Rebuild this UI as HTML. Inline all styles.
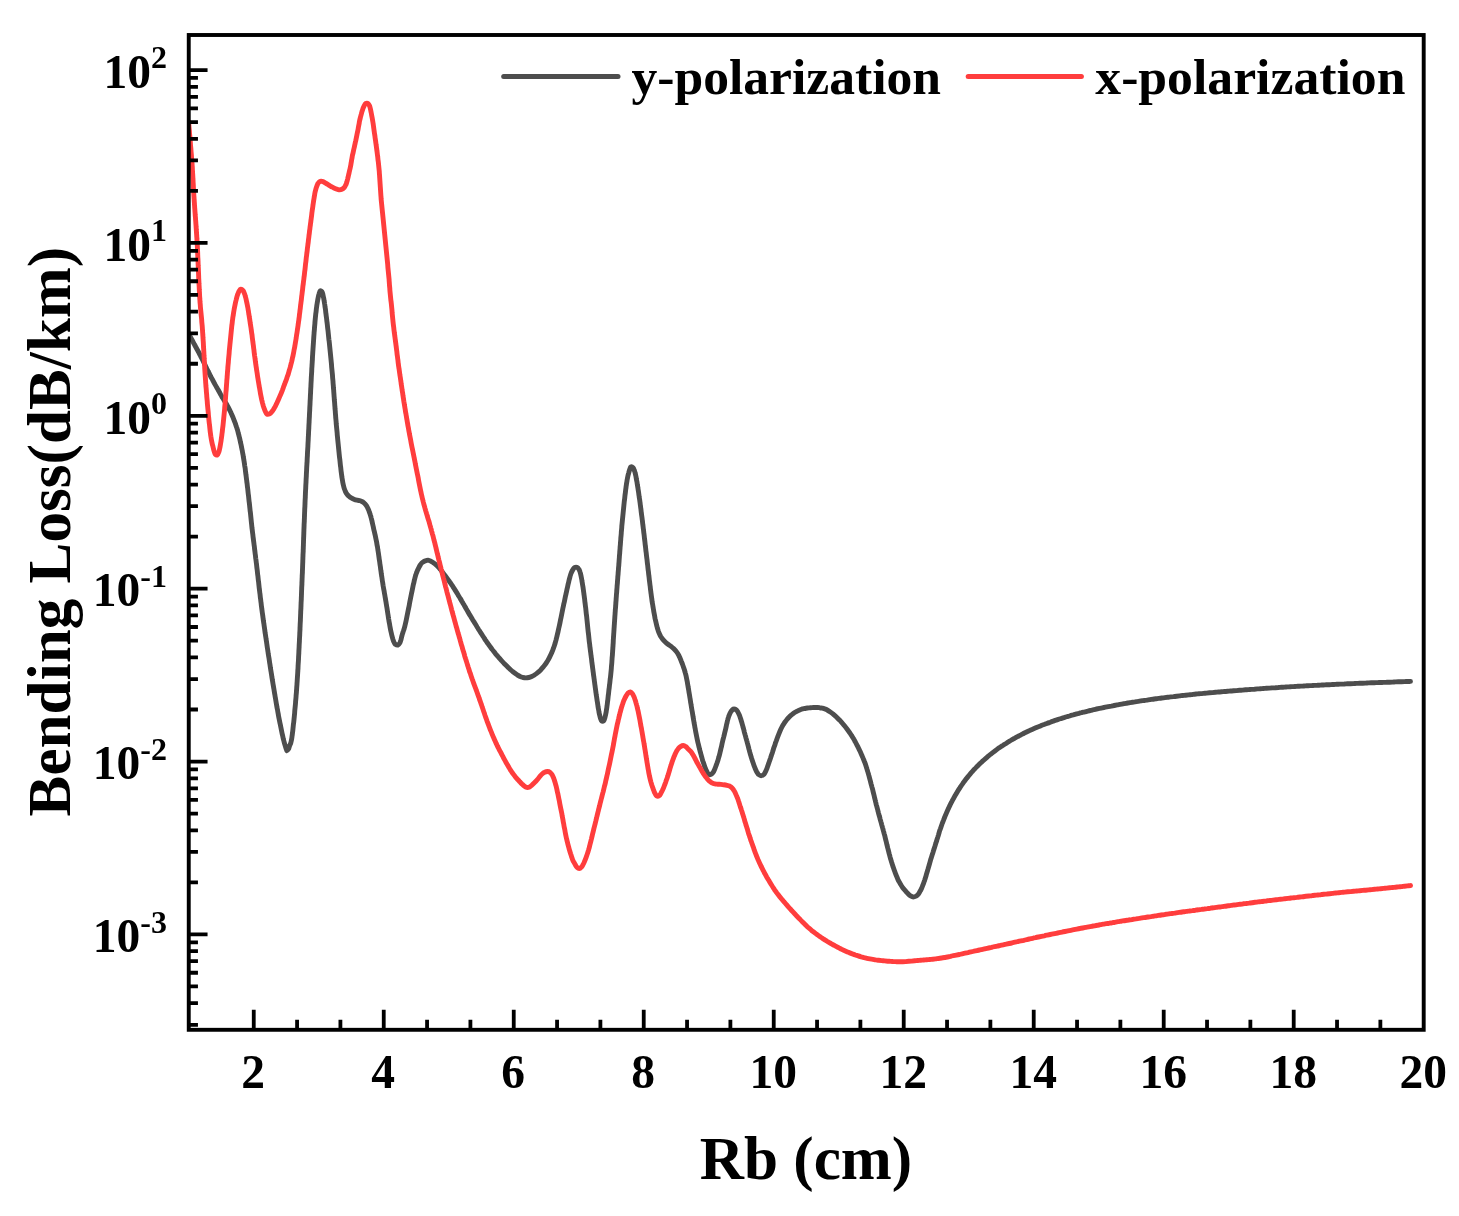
<!DOCTYPE html>
<html><head><meta charset="utf-8"><title>Bending Loss</title>
<style>html,body{margin:0;padding:0;background:#fff}svg{display:block}text{font-family:"Liberation Serif",serif;font-weight:bold;fill:#000}</style></head><body>
<svg width="1459" height="1216" viewBox="0 0 1459 1216">
<rect width="1459" height="1216" fill="#fff"/>
<clipPath id="plot"><rect x="188.75" y="35.00" width="1234.95" height="994.80"/></clipPath><g clip-path="url(#plot)">
<path d="M188.8 334.0C189.0 334.4 189.7 335.8 190.2 336.6C190.7 337.5 191.1 338.4 191.6 339.3C192.1 340.2 192.6 341.0 193.1 341.9C193.5 342.8 194.0 343.7 194.5 344.6C195.0 345.4 195.5 346.3 195.9 347.2C196.4 348.1 196.9 349.0 197.3 349.8C197.8 350.7 198.3 351.6 198.8 352.5C199.2 353.4 199.7 354.3 200.2 355.2C200.6 356.0 201.1 356.9 201.5 357.8C202.0 358.7 202.4 359.6 202.9 360.5C203.3 361.4 203.8 362.3 204.2 363.2C204.6 364.1 205.1 365.0 205.5 365.9C205.9 366.8 206.4 367.7 206.8 368.6C207.3 369.5 207.7 370.4 208.1 371.3C208.6 372.2 209.0 373.1 209.5 374.0C209.9 374.9 210.4 375.8 210.8 376.7C211.3 377.6 211.8 378.5 212.3 379.3C212.7 380.2 213.2 381.1 213.7 382.0C214.2 382.9 214.7 383.7 215.1 384.6C215.6 385.5 216.1 386.4 216.6 387.2C217.1 388.1 217.6 389.0 218.1 389.9C218.6 390.7 219.1 391.6 219.6 392.5C220.1 393.4 220.5 394.2 221.0 395.1C221.5 396.0 222.0 396.8 222.5 397.7C223.1 398.6 223.6 399.4 224.1 400.3C224.6 401.1 225.1 402.0 225.7 402.8C226.2 403.7 226.7 404.6 227.2 405.4C227.7 406.3 228.2 407.2 228.6 408.0C229.1 408.9 229.6 409.8 230.0 410.7C230.4 411.6 230.9 412.5 231.3 413.5C231.7 414.4 232.1 415.3 232.5 416.2C232.9 417.1 233.3 418.1 233.6 419.0C234.0 419.9 234.3 420.9 234.7 421.8C235.0 422.7 235.4 423.7 235.7 424.6C236.0 425.6 236.4 426.5 236.7 427.5C237.0 428.4 237.3 429.4 237.6 430.3C237.8 431.3 238.1 432.3 238.3 433.2C238.6 434.2 238.8 435.2 239.1 436.2C239.3 437.1 239.6 438.1 239.8 439.1C240.0 440.1 240.2 441.0 240.4 442.0C240.7 443.0 240.9 444.0 241.1 444.9C241.3 445.9 241.5 446.9 241.7 447.9C241.9 448.9 242.1 449.9 242.3 450.8C242.4 451.8 242.6 452.8 242.8 453.8C243.0 454.8 243.2 455.8 243.3 456.7C243.5 457.7 243.7 458.7 243.8 459.7C244.0 460.7 244.1 461.7 244.3 462.7C244.5 463.7 244.6 464.7 244.7 465.7C244.9 466.6 245.0 467.6 245.2 468.6C245.3 469.6 245.4 470.6 245.5 471.6C245.7 472.6 245.8 473.6 245.9 474.6C246.1 475.6 246.2 476.6 246.3 477.6C246.4 478.6 246.6 479.6 246.7 480.6C246.8 481.5 246.9 482.5 247.1 483.5C247.2 484.5 247.3 485.5 247.4 486.5C247.5 487.5 247.7 488.5 247.8 489.5C247.9 490.5 248.0 491.5 248.1 492.5C248.2 493.5 248.3 494.5 248.5 495.5C248.6 496.5 248.7 497.5 248.8 498.5C248.9 499.5 249.0 500.4 249.1 501.4C249.3 502.4 249.4 503.4 249.5 504.4C249.6 505.4 249.7 506.4 249.8 507.4C249.9 508.4 250.0 509.4 250.1 510.4C250.2 511.4 250.4 512.4 250.5 513.4C250.6 514.4 250.7 515.4 250.8 516.4C250.9 517.4 251.0 518.4 251.1 519.4C251.2 520.4 251.3 521.4 251.4 522.4C251.5 523.4 251.6 524.4 251.7 525.3C251.8 526.3 251.9 527.3 252.0 528.3C252.2 529.3 252.3 530.3 252.4 531.3C252.5 532.3 252.6 533.3 252.8 534.3C252.9 535.3 253.0 536.3 253.1 537.3C253.3 538.3 253.4 539.3 253.5 540.3C253.6 541.3 253.8 542.3 253.9 543.2C254.0 544.2 254.1 545.2 254.3 546.2C254.4 547.2 254.5 548.2 254.6 549.2C254.8 550.2 254.9 551.2 255.0 552.2C255.1 553.2 255.2 554.2 255.4 555.2C255.5 556.2 255.6 557.2 255.7 558.2C255.9 559.1 256.0 560.1 256.1 561.1C256.2 562.1 256.3 563.1 256.5 564.1C256.6 565.1 256.7 566.1 256.8 567.1C256.9 568.1 257.1 569.1 257.2 570.1C257.3 571.1 257.4 572.1 257.5 573.1C257.6 574.1 257.7 575.1 257.9 576.1C258.0 577.1 258.1 578.0 258.2 579.0C258.3 580.0 258.4 581.0 258.6 582.0C258.7 583.0 258.8 584.0 258.9 585.0C259.0 586.0 259.1 587.0 259.2 588.0C259.4 589.0 259.5 590.0 259.6 591.0C259.7 592.0 259.8 593.0 260.0 594.0C260.1 595.0 260.2 596.0 260.3 597.0C260.4 597.9 260.6 598.9 260.7 599.9C260.8 600.9 260.9 601.9 261.1 602.9C261.2 603.9 261.3 604.9 261.4 605.9C261.6 606.9 261.7 607.9 261.8 608.9C262.0 609.9 262.1 610.9 262.2 611.9C262.3 612.8 262.5 613.8 262.6 614.8C262.8 615.8 262.9 616.8 263.0 617.8C263.2 618.8 263.3 619.8 263.4 620.8C263.6 621.8 263.7 622.8 263.9 623.8C264.0 624.8 264.1 625.7 264.3 626.7C264.4 627.7 264.6 628.7 264.7 629.7C264.9 630.7 265.0 631.7 265.1 632.7C265.3 633.7 265.4 634.7 265.6 635.7C265.7 636.7 265.9 637.6 266.0 638.6C266.2 639.6 266.3 640.6 266.5 641.6C266.6 642.6 266.8 643.6 266.9 644.6C267.0 645.6 267.2 646.6 267.3 647.5C267.5 648.5 267.6 649.5 267.8 650.5C267.9 651.5 268.1 652.5 268.2 653.5C268.4 654.5 268.5 655.5 268.7 656.5C268.9 657.5 269.0 658.4 269.2 659.4C269.3 660.4 269.5 661.4 269.6 662.4C269.8 663.4 269.9 664.4 270.1 665.4C270.2 666.4 270.4 667.4 270.5 668.3C270.7 669.3 270.8 670.3 271.0 671.3C271.2 672.3 271.3 673.3 271.5 674.3C271.6 675.3 271.8 676.3 271.9 677.2C272.1 678.2 272.3 679.2 272.4 680.2C272.6 681.2 272.7 682.2 272.9 683.2C273.1 684.2 273.2 685.2 273.4 686.1C273.6 687.1 273.7 688.1 273.9 689.1C274.1 690.1 274.2 691.1 274.4 692.1C274.5 693.1 274.7 694.0 274.9 695.0C275.0 696.0 275.2 697.0 275.4 698.0C275.6 699.0 275.7 700.0 275.9 701.0C276.1 701.9 276.2 702.9 276.4 703.9C276.6 704.9 276.8 705.9 276.9 706.9C277.1 707.9 277.3 708.9 277.5 709.8C277.6 710.8 277.8 711.8 278.0 712.8C278.2 713.8 278.4 714.8 278.5 715.8C278.7 716.7 278.9 717.7 279.1 718.7C279.3 719.7 279.5 720.7 279.7 721.7C279.9 722.6 280.1 723.6 280.3 724.6C280.5 725.6 280.7 726.6 280.9 727.5C281.1 728.5 281.3 729.5 281.5 730.5C281.7 731.5 281.9 732.4 282.1 733.4C282.3 734.4 282.6 735.4 282.8 736.4C283.0 737.3 283.2 738.3 283.4 739.3C283.7 740.3 283.9 741.2 284.2 742.2C284.4 743.2 284.7 744.1 285.0 745.1C285.3 746.0 285.6 747.0 285.9 748.0C286.2 748.9 286.5 750.6 286.9 750.8C287.4 750.9 288.1 749.7 288.6 748.9C289.0 748.1 289.1 747.0 289.5 746.0C289.8 745.1 290.3 744.2 290.7 743.3C291.0 742.3 291.2 741.3 291.4 740.3C291.6 739.4 291.7 738.4 291.9 737.4C292.0 736.4 292.2 735.4 292.3 734.4C292.4 733.4 292.5 732.4 292.7 731.4C292.8 730.4 292.9 729.4 293.0 728.4C293.1 727.4 293.2 726.4 293.3 725.4C293.4 724.5 293.5 723.5 293.7 722.5C293.8 721.5 293.9 720.5 294.0 719.5C294.1 718.5 294.2 717.5 294.3 716.5C294.4 715.5 294.5 714.5 294.6 713.5C294.7 712.5 294.7 711.5 294.8 710.5C294.9 709.5 295.0 708.5 295.1 707.5C295.2 706.5 295.3 705.5 295.4 704.5C295.5 703.5 295.6 702.5 295.6 701.5C295.7 700.5 295.8 699.5 295.9 698.5C296.0 697.5 296.1 696.5 296.1 695.5C296.2 694.5 296.3 693.5 296.4 692.5C296.4 691.5 296.5 690.5 296.6 689.5C296.7 688.5 296.7 687.5 296.8 686.5C296.9 685.5 297.0 684.5 297.0 683.5C297.1 682.5 297.2 681.5 297.2 680.5C297.3 679.5 297.3 678.5 297.4 677.5C297.5 676.5 297.5 675.5 297.6 674.5C297.7 673.5 297.7 672.5 297.8 671.5C297.8 670.5 297.9 669.5 298.0 668.5C298.0 667.5 298.1 666.5 298.1 665.5C298.2 664.5 298.2 663.5 298.3 662.5C298.4 661.5 298.4 660.5 298.5 659.5C298.5 658.5 298.6 657.5 298.6 656.5C298.7 655.5 298.7 654.5 298.8 653.5C298.8 652.5 298.9 651.5 298.9 650.5C299.0 649.5 299.0 648.5 299.1 647.5C299.1 646.5 299.2 645.5 299.2 644.5C299.3 643.5 299.3 642.5 299.4 641.5C299.4 640.5 299.5 639.5 299.5 638.5C299.6 637.5 299.6 636.5 299.7 635.5C299.7 634.5 299.8 633.5 299.8 632.5C299.9 631.5 299.9 630.5 300.0 629.5C300.0 628.5 300.0 627.5 300.1 626.5C300.1 625.5 300.2 624.5 300.2 623.5C300.3 622.5 300.3 621.5 300.4 620.5C300.4 619.5 300.4 618.5 300.5 617.5C300.5 616.5 300.6 615.5 300.6 614.5C300.7 613.5 300.7 612.5 300.7 611.5C300.8 610.5 300.8 609.5 300.9 608.5C300.9 607.5 301.0 606.5 301.0 605.5C301.0 604.5 301.1 603.5 301.1 602.5C301.2 601.5 301.2 600.5 301.3 599.5C301.3 598.5 301.3 597.5 301.4 596.5C301.4 595.5 301.5 594.5 301.5 593.5C301.5 592.5 301.6 591.5 301.6 590.5C301.7 589.5 301.7 588.5 301.7 587.5C301.8 586.5 301.8 585.5 301.9 584.5C301.9 583.5 301.9 582.5 302.0 581.5C302.0 580.5 302.1 579.5 302.1 578.5C302.2 577.5 302.2 576.5 302.2 575.5C302.3 574.5 302.3 573.5 302.4 572.5C302.4 571.5 302.4 570.5 302.5 569.5C302.5 568.5 302.6 567.5 302.6 566.5C302.6 565.5 302.7 564.5 302.7 563.5C302.8 562.5 302.8 561.5 302.8 560.5C302.9 559.5 302.9 558.5 302.9 557.5C303.0 556.5 303.0 555.5 303.0 554.5C303.1 553.5 303.1 552.5 303.2 551.5C303.2 550.5 303.2 549.5 303.3 548.5C303.3 547.5 303.3 546.5 303.4 545.5C303.4 544.5 303.4 543.5 303.5 542.5C303.5 541.5 303.5 540.5 303.6 539.5C303.6 538.4 303.6 537.4 303.7 536.4C303.7 535.4 303.8 534.4 303.8 533.4C303.8 532.4 303.9 531.4 303.9 530.4C303.9 529.4 304.0 528.4 304.0 527.4C304.1 526.4 304.1 525.4 304.1 524.4C304.2 523.4 304.2 522.4 304.3 521.4C304.3 520.4 304.3 519.4 304.4 518.4C304.4 517.4 304.5 516.4 304.5 515.4C304.5 514.4 304.6 513.4 304.6 512.4C304.7 511.4 304.7 510.4 304.7 509.4C304.8 508.4 304.8 507.4 304.9 506.4C304.9 505.4 305.0 504.4 305.0 503.4C305.0 502.4 305.1 501.4 305.1 500.4C305.2 499.4 305.2 498.4 305.3 497.4C305.3 496.4 305.3 495.4 305.4 494.4C305.4 493.4 305.5 492.4 305.5 491.4C305.6 490.4 305.6 489.4 305.7 488.4C305.7 487.4 305.8 486.4 305.8 485.4C305.9 484.4 305.9 483.4 306.0 482.4C306.0 481.4 306.1 480.4 306.1 479.4C306.2 478.4 306.2 477.4 306.3 476.4C306.3 475.4 306.4 474.4 306.4 473.4C306.5 472.4 306.5 471.4 306.6 470.4C306.6 469.4 306.7 468.4 306.7 467.4C306.8 466.4 306.8 465.4 306.9 464.4C306.9 463.4 307.0 462.4 307.1 461.4C307.1 460.4 307.2 459.4 307.2 458.4C307.3 457.4 307.3 456.4 307.4 455.4C307.4 454.4 307.5 453.4 307.5 452.4C307.6 451.4 307.6 450.4 307.7 449.4C307.8 448.4 307.8 447.4 307.9 446.4C307.9 445.4 308.0 444.4 308.0 443.4C308.1 442.4 308.1 441.4 308.2 440.4C308.2 439.4 308.3 438.4 308.3 437.4C308.4 436.4 308.4 435.4 308.5 434.4C308.5 433.4 308.6 432.4 308.6 431.4C308.7 430.4 308.7 429.4 308.8 428.4C308.8 427.4 308.9 426.4 308.9 425.4C309.0 424.4 309.0 423.4 309.1 422.4C309.1 421.4 309.2 420.4 309.2 419.4C309.3 418.4 309.3 417.4 309.4 416.4C309.4 415.4 309.5 414.4 309.5 413.4C309.6 412.4 309.6 411.4 309.7 410.4C309.7 409.4 309.8 408.4 309.8 407.4C309.9 406.4 309.9 405.4 310.0 404.4C310.0 403.4 310.1 402.4 310.1 401.4C310.2 400.4 310.2 399.4 310.3 398.4C310.3 397.4 310.4 396.4 310.4 395.4C310.5 394.4 310.5 393.4 310.6 392.4C310.6 391.4 310.7 390.4 310.7 389.4C310.8 388.4 310.8 387.4 310.9 386.4C310.9 385.4 311.0 384.4 311.0 383.4C311.1 382.4 311.1 381.4 311.2 380.4C311.2 379.4 311.3 378.4 311.3 377.4C311.4 376.4 311.4 375.4 311.5 374.4C311.6 373.4 311.6 372.4 311.7 371.4C311.7 370.4 311.8 369.4 311.8 368.4C311.9 367.4 312.0 366.4 312.0 365.4C312.1 364.4 312.1 363.4 312.2 362.4C312.2 361.4 312.3 360.4 312.4 359.4C312.4 358.4 312.5 357.4 312.5 356.4C312.6 355.4 312.7 354.4 312.7 353.4C312.8 352.4 312.8 351.4 312.9 350.4C313.0 349.4 313.0 348.4 313.1 347.4C313.2 346.4 313.2 345.4 313.3 344.4C313.4 343.4 313.4 342.4 313.5 341.4C313.6 340.4 313.6 339.4 313.7 338.4C313.8 337.4 313.8 336.4 313.9 335.4C314.0 334.4 314.1 333.4 314.1 332.4C314.2 331.4 314.3 330.4 314.4 329.4C314.4 328.4 314.5 327.4 314.6 326.4C314.7 325.4 314.8 324.4 314.9 323.4C314.9 322.4 315.0 321.4 315.1 320.4C315.2 319.4 315.3 318.4 315.4 317.4C315.5 316.4 315.6 315.4 315.7 314.4C315.8 313.4 316.0 312.4 316.1 311.4C316.2 310.4 316.3 309.4 316.4 308.5C316.6 307.5 316.7 306.5 316.8 305.5C317.0 304.5 317.1 303.5 317.3 302.5C317.5 301.5 317.6 300.5 317.8 299.5C318.0 298.6 318.2 297.6 318.4 296.6C318.6 295.6 318.8 294.6 319.1 293.7C319.4 292.7 319.7 291.2 320.2 290.9C320.7 290.6 321.7 291.3 322.1 292.0C322.6 292.7 322.7 293.9 323.0 294.9C323.2 295.9 323.4 296.9 323.6 297.8C323.8 298.8 324.0 299.8 324.1 300.8C324.3 301.8 324.5 302.8 324.6 303.8C324.8 304.7 324.9 305.7 325.0 306.7C325.2 307.7 325.3 308.7 325.5 309.7C325.6 310.7 325.7 311.7 325.8 312.7C326.0 313.7 326.1 314.7 326.2 315.7C326.3 316.7 326.5 317.7 326.6 318.7C326.7 319.6 326.8 320.6 326.9 321.6C327.1 322.6 327.2 323.6 327.3 324.6C327.4 325.6 327.5 326.6 327.6 327.6C327.7 328.6 327.9 329.6 328.0 330.6C328.1 331.6 328.2 332.6 328.3 333.6C328.4 334.6 328.5 335.6 328.6 336.6C328.7 337.6 328.8 338.6 328.9 339.6C329.1 340.5 329.2 341.5 329.3 342.5C329.4 343.5 329.5 344.5 329.6 345.5C329.7 346.5 329.8 347.5 329.9 348.5C330.0 349.5 330.1 350.5 330.2 351.5C330.3 352.5 330.4 353.5 330.5 354.5C330.6 355.5 330.7 356.5 330.8 357.5C330.9 358.5 331.0 359.5 331.1 360.5C331.2 361.5 331.3 362.5 331.4 363.5C331.5 364.5 331.6 365.5 331.6 366.5C331.7 367.5 331.8 368.5 331.9 369.5C332.0 370.5 332.1 371.5 332.2 372.4C332.3 373.4 332.4 374.4 332.5 375.4C332.5 376.4 332.6 377.4 332.7 378.4C332.8 379.4 332.9 380.4 333.0 381.4C333.0 382.4 333.1 383.4 333.2 384.4C333.3 385.4 333.4 386.4 333.4 387.4C333.5 388.4 333.6 389.4 333.7 390.4C333.7 391.4 333.8 392.4 333.9 393.4C334.0 394.4 334.0 395.4 334.1 396.4C334.2 397.4 334.3 398.4 334.3 399.4C334.4 400.4 334.5 401.4 334.6 402.4C334.7 403.4 334.7 404.4 334.8 405.4C334.9 406.4 335.0 407.4 335.0 408.4C335.1 409.4 335.2 410.4 335.3 411.4C335.3 412.4 335.4 413.4 335.5 414.4C335.6 415.4 335.7 416.4 335.7 417.4C335.8 418.4 335.9 419.4 336.0 420.4C336.1 421.4 336.2 422.4 336.2 423.4C336.3 424.4 336.4 425.4 336.5 426.4C336.6 427.4 336.7 428.4 336.8 429.4C336.9 430.4 337.0 431.4 337.1 432.4C337.2 433.3 337.2 434.3 337.3 435.3C337.4 436.3 337.5 437.3 337.6 438.3C337.7 439.3 337.8 440.3 337.9 441.3C338.0 442.3 338.1 443.3 338.2 444.3C338.3 445.3 338.4 446.3 338.5 447.3C338.6 448.3 338.7 449.3 338.8 450.3C338.9 451.3 339.0 452.3 339.1 453.3C339.2 454.3 339.3 455.3 339.4 456.3C339.5 457.3 339.6 458.3 339.8 459.3C339.9 460.3 340.0 461.3 340.1 462.2C340.2 463.2 340.3 464.2 340.4 465.2C340.5 466.2 340.7 467.2 340.8 468.2C340.9 469.2 341.0 470.2 341.1 471.2C341.3 472.2 341.4 473.2 341.5 474.2C341.7 475.2 341.8 476.2 341.9 477.2C342.1 478.2 342.2 479.1 342.4 480.1C342.6 481.1 342.7 482.1 342.9 483.1C343.1 484.1 343.4 485.0 343.6 486.0C343.8 487.0 344.1 488.0 344.4 488.9C344.7 489.9 345.1 490.8 345.5 491.7C346.0 492.6 346.5 493.5 347.1 494.3C347.7 495.0 348.4 495.8 349.2 496.4C349.9 497.1 350.8 497.6 351.7 498.1C352.5 498.6 353.4 499.0 354.4 499.4C355.3 499.8 356.3 500.0 357.2 500.2C358.2 500.5 359.3 500.4 360.2 500.7C361.1 501.0 362.0 501.5 362.9 502.0C363.7 502.6 364.5 503.3 365.1 504.0C365.8 504.7 366.4 505.6 366.9 506.4C367.4 507.3 367.8 508.2 368.2 509.1C368.6 510.0 369.0 511.0 369.3 511.9C369.7 512.8 370.0 513.8 370.3 514.8C370.6 515.7 370.9 516.7 371.1 517.6C371.4 518.6 371.6 519.6 371.9 520.6C372.1 521.5 372.3 522.5 372.5 523.5C372.7 524.5 372.9 525.5 373.2 526.4C373.4 527.4 373.6 528.4 373.8 529.4C374.0 530.3 374.3 531.3 374.5 532.3C374.7 533.3 374.9 534.2 375.2 535.2C375.4 536.2 375.6 537.2 375.8 538.2C376.0 539.1 376.2 540.1 376.4 541.1C376.6 542.1 376.8 543.1 376.9 544.1C377.1 545.0 377.3 546.0 377.5 547.0C377.6 548.0 377.8 549.0 377.9 550.0C378.1 551.0 378.2 552.0 378.4 553.0C378.5 553.9 378.7 554.9 378.8 555.9C379.0 556.9 379.1 557.9 379.2 558.9C379.4 559.9 379.5 560.9 379.7 561.9C379.8 562.9 379.9 563.9 380.1 564.9C380.2 565.8 380.4 566.8 380.5 567.8C380.6 568.8 380.8 569.8 380.9 570.8C381.1 571.8 381.2 572.8 381.3 573.8C381.5 574.8 381.6 575.8 381.8 576.8C381.9 577.7 382.1 578.7 382.2 579.7C382.3 580.7 382.5 581.7 382.7 582.7C382.8 583.7 383.0 584.7 383.1 585.7C383.3 586.7 383.5 587.6 383.6 588.6C383.8 589.6 384.0 590.6 384.2 591.6C384.3 592.6 384.5 593.6 384.7 594.5C384.9 595.5 385.0 596.5 385.2 597.5C385.4 598.5 385.6 599.5 385.7 600.5C385.9 601.4 386.1 602.4 386.2 603.4C386.4 604.4 386.5 605.4 386.7 606.4C386.9 607.4 387.0 608.4 387.2 609.4C387.3 610.4 387.5 611.3 387.6 612.3C387.8 613.3 387.9 614.3 388.1 615.3C388.2 616.3 388.4 617.3 388.5 618.3C388.7 619.3 388.9 620.2 389.0 621.2C389.2 622.2 389.4 623.2 389.6 624.2C389.7 625.2 389.9 626.2 390.1 627.2C390.3 628.1 390.5 629.1 390.6 630.1C390.8 631.1 391.0 632.1 391.3 633.0C391.5 634.0 391.7 635.0 392.0 636.0C392.2 636.9 392.5 637.9 392.8 638.9C393.1 639.8 393.4 640.8 393.8 641.7C394.2 642.6 394.6 643.7 395.3 644.3C396.0 644.8 397.2 645.3 398.0 645.1C398.7 644.8 399.4 643.6 399.9 642.8C400.3 641.9 400.6 640.9 400.9 640.0C401.2 639.0 401.4 638.0 401.6 637.0C401.9 636.1 402.1 635.1 402.4 634.1C402.7 633.2 403.0 632.2 403.3 631.3C403.6 630.3 404.0 629.4 404.2 628.4C404.5 627.5 404.8 626.5 405.0 625.5C405.3 624.6 405.5 623.6 405.7 622.6C405.9 621.6 406.1 620.6 406.3 619.7C406.5 618.7 406.7 617.7 406.9 616.7C407.1 615.7 407.3 614.7 407.5 613.8C407.7 612.8 407.9 611.8 408.1 610.8C408.3 609.8 408.5 608.8 408.7 607.9C408.9 606.9 409.1 605.9 409.3 604.9C409.4 603.9 409.6 603.0 409.8 602.0C410.0 601.0 410.2 600.0 410.4 599.0C410.6 598.0 410.8 597.1 411.0 596.1C411.2 595.1 411.4 594.1 411.6 593.1C411.8 592.1 412.0 591.2 412.2 590.2C412.4 589.2 412.6 588.2 412.8 587.2C413.0 586.3 413.2 585.3 413.4 584.3C413.7 583.3 413.9 582.4 414.1 581.4C414.3 580.4 414.6 579.4 414.8 578.5C415.1 577.5 415.3 576.5 415.6 575.6C415.9 574.6 416.2 573.7 416.6 572.7C416.9 571.8 417.3 570.9 417.7 569.9C418.1 569.0 418.6 568.1 419.0 567.2C419.5 566.3 420.0 565.4 420.5 564.6C421.1 563.8 421.7 563.0 422.5 562.4C423.3 561.8 424.2 561.2 425.1 560.9C426.0 560.5 427.0 560.1 428.0 560.1C428.9 560.2 429.9 560.7 430.8 561.2C431.7 561.6 432.5 562.2 433.3 562.7C434.2 563.3 435.0 563.9 435.7 564.6C436.5 565.2 437.2 565.9 437.9 566.6C438.6 567.4 439.2 568.1 439.9 568.9C440.5 569.6 441.2 570.4 441.8 571.2C442.4 572.0 443.0 572.8 443.6 573.6C444.2 574.4 444.8 575.2 445.4 576.0C446.0 576.8 446.6 577.6 447.2 578.4C447.8 579.2 448.4 580.0 449.0 580.9C449.5 581.7 450.1 582.5 450.7 583.3C451.2 584.1 451.8 585.0 452.4 585.8C452.9 586.6 453.5 587.5 454.0 588.3C454.5 589.2 455.1 590.0 455.6 590.9C456.1 591.7 456.7 592.6 457.2 593.4C457.7 594.3 458.2 595.1 458.7 596.0C459.3 596.9 459.8 597.7 460.3 598.6C460.8 599.4 461.3 600.3 461.8 601.2C462.3 602.0 462.8 602.9 463.3 603.8C463.8 604.6 464.3 605.5 464.8 606.4C465.3 607.2 465.8 608.1 466.3 609.0C466.8 609.8 467.3 610.7 467.8 611.6C468.3 612.4 468.8 613.3 469.3 614.2C469.9 615.0 470.4 615.9 470.9 616.7C471.4 617.6 471.9 618.5 472.4 619.3C473.0 620.2 473.5 621.0 474.0 621.9C474.5 622.7 475.0 623.6 475.6 624.4C476.1 625.3 476.6 626.2 477.1 627.0C477.7 627.9 478.2 628.7 478.7 629.6C479.3 630.4 479.8 631.2 480.3 632.1C480.9 632.9 481.4 633.8 482.0 634.6C482.5 635.5 483.0 636.3 483.6 637.1C484.1 638.0 484.7 638.8 485.2 639.7C485.8 640.5 486.4 641.3 486.9 642.1C487.5 643.0 488.1 643.8 488.7 644.6C489.2 645.4 489.8 646.2 490.4 647.0C491.0 647.8 491.6 648.7 492.2 649.5C492.8 650.2 493.4 651.0 494.1 651.8C494.7 652.6 495.3 653.4 495.9 654.2C496.6 654.9 497.2 655.7 497.9 656.5C498.5 657.2 499.2 658.0 499.8 658.7C500.5 659.5 501.2 660.2 501.9 661.0C502.5 661.7 503.2 662.4 503.9 663.2C504.6 663.9 505.3 664.6 506.0 665.3C506.7 666.0 507.4 666.7 508.1 667.4C508.9 668.1 509.6 668.8 510.3 669.5C511.1 670.2 511.8 670.8 512.6 671.5C513.4 672.1 514.2 672.7 515.0 673.3C515.8 673.9 516.6 674.5 517.4 675.0C518.3 675.5 519.2 676.0 520.1 676.5C521.0 676.9 521.9 677.2 522.9 677.5C523.9 677.7 524.9 677.9 525.9 677.9C526.9 677.9 527.9 677.7 528.8 677.5C529.8 677.3 530.8 676.9 531.7 676.5C532.6 676.1 533.5 675.7 534.3 675.1C535.2 674.6 536.0 674.0 536.8 673.4C537.6 672.8 538.3 672.1 539.1 671.5C539.8 670.8 540.5 670.1 541.2 669.3C541.9 668.6 542.5 667.8 543.2 667.1C543.8 666.3 544.4 665.5 545.0 664.7C545.6 663.9 546.2 663.1 546.7 662.2C547.3 661.4 547.8 660.5 548.3 659.6C548.8 658.8 549.2 657.9 549.7 657.0C550.1 656.1 550.6 655.2 551.0 654.3C551.4 653.4 551.8 652.5 552.2 651.5C552.6 650.6 552.9 649.7 553.3 648.7C553.6 647.8 553.9 646.8 554.3 645.9C554.6 644.9 554.9 644.0 555.2 643.0C555.4 642.1 555.7 641.1 556.0 640.1C556.2 639.2 556.5 638.2 556.7 637.2C557.0 636.3 557.2 635.3 557.4 634.3C557.7 633.3 557.9 632.3 558.1 631.4C558.3 630.4 558.5 629.4 558.7 628.4C559.0 627.5 559.2 626.5 559.4 625.5C559.6 624.5 559.8 623.5 560.0 622.6C560.2 621.6 560.4 620.6 560.6 619.6C560.8 618.6 561.0 617.7 561.2 616.7C561.4 615.7 561.6 614.7 561.8 613.7C562.0 612.7 562.2 611.8 562.4 610.8C562.6 609.8 562.8 608.8 563.0 607.8C563.2 606.9 563.4 605.9 563.6 604.9C563.8 603.9 564.1 602.9 564.3 602.0C564.5 601.0 564.7 600.0 564.9 599.0C565.1 598.0 565.3 597.1 565.5 596.1C565.7 595.1 566.0 594.1 566.2 593.1C566.4 592.2 566.6 591.2 566.8 590.2C567.0 589.2 567.2 588.3 567.5 587.3C567.7 586.3 567.9 585.3 568.1 584.3C568.3 583.4 568.6 582.4 568.8 581.4C569.0 580.4 569.3 579.5 569.5 578.5C569.8 577.5 570.0 576.6 570.3 575.6C570.6 574.6 570.9 573.7 571.3 572.8C571.7 571.8 572.1 570.9 572.6 570.1C573.2 569.2 573.7 568.1 574.4 567.7C575.2 567.2 576.4 567.0 577.1 567.4C577.9 567.7 578.6 568.7 579.1 569.6C579.6 570.4 579.9 571.4 580.2 572.4C580.5 573.3 580.7 574.3 580.9 575.3C581.1 576.3 581.3 577.3 581.5 578.2C581.7 579.2 581.9 580.2 582.0 581.2C582.2 582.2 582.3 583.2 582.5 584.2C582.7 585.2 582.8 586.2 583.0 587.1C583.1 588.1 583.3 589.1 583.4 590.1C583.5 591.1 583.7 592.1 583.8 593.1C583.9 594.1 584.1 595.1 584.2 596.1C584.3 597.1 584.5 598.1 584.6 599.1C584.7 600.0 584.8 601.0 584.9 602.0C585.1 603.0 585.2 604.0 585.3 605.0C585.4 606.0 585.5 607.0 585.7 608.0C585.8 609.0 585.9 610.0 586.0 611.0C586.1 612.0 586.2 613.0 586.3 614.0C586.5 615.0 586.6 616.0 586.7 617.0C586.8 618.0 586.9 618.9 587.0 619.9C587.1 620.9 587.2 621.9 587.3 622.9C587.4 623.9 587.5 624.9 587.6 625.9C587.7 626.9 587.8 627.9 587.9 628.9C588.0 629.9 588.1 630.9 588.2 631.9C588.4 632.9 588.5 633.9 588.6 634.9C588.7 635.9 588.8 636.9 588.9 637.9C589.0 638.9 589.1 639.9 589.2 640.9C589.3 641.9 589.5 642.9 589.6 643.8C589.7 644.8 589.8 645.8 589.9 646.8C590.1 647.8 590.2 648.8 590.3 649.8C590.4 650.8 590.6 651.8 590.7 652.8C590.8 653.8 590.9 654.8 591.1 655.8C591.2 656.8 591.3 657.8 591.5 658.8C591.6 659.7 591.7 660.7 591.8 661.7C592.0 662.7 592.1 663.7 592.2 664.7C592.4 665.7 592.5 666.7 592.6 667.7C592.7 668.7 592.9 669.7 593.0 670.7C593.1 671.7 593.3 672.7 593.4 673.7C593.5 674.6 593.6 675.6 593.8 676.6C593.9 677.6 594.0 678.6 594.2 679.6C594.3 680.6 594.4 681.6 594.6 682.6C594.7 683.6 594.8 684.6 595.0 685.6C595.1 686.6 595.2 687.6 595.4 688.5C595.5 689.5 595.7 690.5 595.8 691.5C595.9 692.5 596.1 693.5 596.2 694.5C596.4 695.5 596.5 696.5 596.7 697.5C596.8 698.5 597.0 699.5 597.1 700.4C597.3 701.4 597.4 702.4 597.6 703.4C597.7 704.4 597.9 705.4 598.0 706.4C598.2 707.4 598.3 708.4 598.5 709.3C598.7 710.3 598.9 711.3 599.0 712.3C599.2 713.3 599.4 714.3 599.7 715.2C599.9 716.2 600.1 717.2 600.4 718.1C600.8 719.1 601.0 720.5 601.6 720.9C602.2 721.3 603.3 721.0 603.9 720.5C604.4 720.0 604.6 718.7 604.9 717.7C605.2 716.8 605.4 715.8 605.6 714.8C605.8 713.8 606.0 712.8 606.2 711.8C606.3 710.8 606.5 709.8 606.6 708.9C606.8 707.9 606.9 706.9 607.0 705.9C607.2 704.9 607.3 703.9 607.4 702.9C607.5 701.9 607.6 700.9 607.8 699.9C607.9 698.9 608.0 697.9 608.1 696.9C608.2 695.9 608.3 694.9 608.5 693.9C608.6 692.9 608.7 692.0 608.8 691.0C608.9 690.0 609.0 689.0 609.2 688.0C609.3 687.0 609.4 686.0 609.5 685.0C609.7 684.0 609.8 683.0 609.9 682.0C610.0 681.0 610.1 680.0 610.2 679.0C610.4 678.0 610.5 677.0 610.6 676.0C610.7 675.0 610.8 674.0 610.9 673.0C611.0 672.1 611.1 671.1 611.2 670.1C611.3 669.1 611.4 668.1 611.4 667.1C611.5 666.1 611.6 665.1 611.7 664.1C611.8 663.1 611.9 662.1 611.9 661.1C612.0 660.1 612.1 659.1 612.1 658.1C612.2 657.1 612.3 656.1 612.4 655.1C612.4 654.1 612.5 653.1 612.6 652.1C612.6 651.1 612.7 650.1 612.8 649.1C612.8 648.1 612.9 647.1 613.0 646.1C613.0 645.1 613.1 644.1 613.2 643.1C613.2 642.1 613.3 641.1 613.3 640.1C613.4 639.1 613.5 638.1 613.5 637.1C613.6 636.1 613.7 635.1 613.7 634.1C613.8 633.1 613.9 632.1 613.9 631.1C614.0 630.1 614.0 629.1 614.1 628.1C614.2 627.1 614.2 626.1 614.3 625.1C614.4 624.1 614.4 623.1 614.5 622.1C614.6 621.1 614.6 620.1 614.7 619.1C614.8 618.1 614.8 617.1 614.9 616.1C615.0 615.1 615.1 614.1 615.1 613.1C615.2 612.1 615.3 611.1 615.3 610.1C615.4 609.1 615.5 608.1 615.6 607.1C615.6 606.1 615.7 605.1 615.8 604.1C615.8 603.1 615.9 602.1 616.0 601.1C616.1 600.1 616.1 599.1 616.2 598.1C616.3 597.1 616.4 596.1 616.4 595.1C616.5 594.1 616.6 593.1 616.7 592.1C616.7 591.1 616.8 590.1 616.9 589.1C617.0 588.1 617.1 587.1 617.1 586.1C617.2 585.1 617.3 584.1 617.4 583.1C617.4 582.1 617.5 581.1 617.6 580.1C617.7 579.1 617.8 578.1 617.8 577.1C617.9 576.1 618.0 575.1 618.1 574.1C618.1 573.1 618.2 572.1 618.3 571.1C618.4 570.1 618.5 569.1 618.5 568.2C618.6 567.2 618.7 566.2 618.8 565.2C618.8 564.2 618.9 563.2 619.0 562.2C619.1 561.2 619.1 560.2 619.2 559.2C619.3 558.2 619.4 557.2 619.4 556.2C619.5 555.2 619.6 554.2 619.7 553.2C619.7 552.2 619.8 551.2 619.9 550.2C620.0 549.2 620.1 548.2 620.1 547.2C620.2 546.2 620.3 545.2 620.4 544.2C620.4 543.2 620.5 542.2 620.6 541.2C620.7 540.2 620.8 539.2 620.8 538.2C620.9 537.2 621.0 536.2 621.1 535.2C621.2 534.2 621.3 533.2 621.3 532.2C621.4 531.2 621.5 530.2 621.6 529.2C621.7 528.2 621.8 527.2 621.8 526.2C621.9 525.2 622.0 524.2 622.1 523.2C622.2 522.2 622.3 521.2 622.4 520.2C622.5 519.2 622.6 518.2 622.7 517.2C622.8 516.2 622.9 515.2 623.0 514.2C623.1 513.2 623.2 512.3 623.3 511.3C623.4 510.3 623.5 509.3 623.6 508.3C623.7 507.3 623.8 506.3 623.9 505.3C624.0 504.3 624.1 503.3 624.2 502.3C624.3 501.3 624.4 500.3 624.6 499.3C624.7 498.3 624.8 497.3 624.9 496.3C625.0 495.3 625.1 494.3 625.3 493.3C625.4 492.3 625.5 491.3 625.6 490.4C625.7 489.4 625.9 488.4 626.0 487.4C626.1 486.4 626.3 485.4 626.4 484.4C626.6 483.4 626.7 482.4 626.9 481.4C627.0 480.4 627.2 479.4 627.4 478.5C627.6 477.5 627.8 476.5 628.0 475.5C628.2 474.5 628.5 473.6 628.8 472.6C629.0 471.7 629.3 470.7 629.6 469.7C630.0 468.8 630.2 467.3 630.8 467.0C631.4 466.6 632.5 467.1 633.1 467.7C633.7 468.3 634.0 469.5 634.3 470.4C634.7 471.4 635.0 472.3 635.2 473.3C635.5 474.3 635.7 475.3 635.9 476.2C636.1 477.2 636.3 478.2 636.4 479.2C636.6 480.2 636.8 481.2 637.0 482.1C637.1 483.1 637.3 484.1 637.4 485.1C637.6 486.1 637.8 487.1 637.9 488.1C638.1 489.1 638.2 490.1 638.4 491.1C638.5 492.0 638.7 493.0 638.8 494.0C638.9 495.0 639.1 496.0 639.2 497.0C639.4 498.0 639.5 499.0 639.7 500.0C639.8 501.0 639.9 502.0 640.1 502.9C640.2 503.9 640.3 504.9 640.5 505.9C640.6 506.9 640.7 507.9 640.9 508.9C641.0 509.9 641.1 510.9 641.2 511.9C641.4 512.9 641.5 513.9 641.6 514.9C641.8 515.9 641.9 516.9 642.0 517.8C642.1 518.8 642.2 519.8 642.4 520.8C642.5 521.8 642.6 522.8 642.7 523.8C642.9 524.8 643.0 525.8 643.1 526.8C643.2 527.8 643.3 528.8 643.5 529.8C643.6 530.8 643.7 531.8 643.8 532.8C644.0 533.8 644.1 534.8 644.2 535.7C644.3 536.7 644.4 537.7 644.5 538.7C644.7 539.7 644.8 540.7 644.9 541.7C645.0 542.7 645.1 543.7 645.2 544.7C645.4 545.7 645.5 546.7 645.6 547.7C645.7 548.7 645.8 549.7 645.9 550.7C646.0 551.7 646.2 552.7 646.3 553.7C646.4 554.7 646.5 555.6 646.6 556.6C646.7 557.6 646.9 558.6 647.0 559.6C647.1 560.6 647.2 561.6 647.3 562.6C647.4 563.6 647.6 564.6 647.7 565.6C647.8 566.6 647.9 567.6 648.0 568.6C648.1 569.6 648.3 570.6 648.4 571.6C648.5 572.6 648.6 573.6 648.7 574.5C648.9 575.5 649.0 576.5 649.1 577.5C649.2 578.5 649.3 579.5 649.4 580.5C649.6 581.5 649.7 582.5 649.8 583.5C649.9 584.5 650.0 585.5 650.2 586.5C650.3 587.5 650.4 588.5 650.5 589.5C650.7 590.5 650.8 591.5 650.9 592.4C651.0 593.4 651.2 594.4 651.3 595.4C651.4 596.4 651.6 597.4 651.7 598.4C651.9 599.4 652.0 600.4 652.1 601.4C652.3 602.4 652.4 603.4 652.6 604.3C652.8 605.3 652.9 606.3 653.1 607.3C653.2 608.3 653.4 609.3 653.6 610.3C653.7 611.3 653.9 612.2 654.1 613.2C654.3 614.2 654.5 615.2 654.7 616.2C654.8 617.2 655.0 618.2 655.2 619.1C655.5 620.1 655.7 621.1 655.9 622.1C656.1 623.0 656.3 624.0 656.6 625.0C656.8 626.0 657.1 626.9 657.3 627.9C657.6 628.9 657.9 629.8 658.2 630.8C658.5 631.7 658.9 632.7 659.3 633.6C659.7 634.5 660.1 635.4 660.6 636.3C661.1 637.1 661.7 638.0 662.3 638.7C662.9 639.5 663.6 640.3 664.3 641.0C665.0 641.7 665.7 642.4 666.5 643.1C667.2 643.7 668.0 644.3 668.9 644.9C669.7 645.5 670.6 646.0 671.4 646.6C672.2 647.2 672.9 647.9 673.6 648.6C674.3 649.3 675.0 650.0 675.7 650.7C676.3 651.5 676.9 652.3 677.5 653.1C678.0 654.0 678.5 654.9 679.0 655.8C679.4 656.6 679.8 657.6 680.2 658.5C680.6 659.4 681.0 660.3 681.3 661.3C681.7 662.2 682.0 663.1 682.4 664.1C682.7 665.0 683.1 666.0 683.4 666.9C683.8 667.8 684.1 668.8 684.4 669.7C684.7 670.7 685.0 671.7 685.2 672.6C685.5 673.6 685.7 674.6 686.0 675.5C686.2 676.5 686.4 677.5 686.6 678.5C686.8 679.5 687.0 680.5 687.2 681.4C687.4 682.4 687.5 683.4 687.7 684.4C687.9 685.4 688.1 686.4 688.2 687.4C688.4 688.3 688.6 689.3 688.7 690.3C688.9 691.3 689.0 692.3 689.2 693.3C689.4 694.3 689.5 695.3 689.7 696.2C689.8 697.2 690.0 698.2 690.2 699.2C690.3 700.2 690.5 701.2 690.6 702.2C690.8 703.2 691.0 704.2 691.1 705.1C691.3 706.1 691.4 707.1 691.6 708.1C691.8 709.1 691.9 710.1 692.1 711.1C692.3 712.1 692.5 713.1 692.6 714.0C692.8 715.0 693.0 716.0 693.1 717.0C693.3 718.0 693.5 719.0 693.6 720.0C693.8 721.0 694.0 721.9 694.1 722.9C694.3 723.9 694.5 724.9 694.7 725.9C694.8 726.9 695.0 727.9 695.2 728.8C695.3 729.8 695.5 730.8 695.7 731.8C695.9 732.8 696.1 733.8 696.3 734.8C696.5 735.7 696.7 736.7 696.9 737.7C697.1 738.7 697.3 739.7 697.5 740.6C697.7 741.6 697.9 742.6 698.2 743.6C698.4 744.5 698.6 745.5 698.9 746.5C699.1 747.5 699.4 748.4 699.6 749.4C699.9 750.4 700.1 751.3 700.4 752.3C700.6 753.3 700.9 754.2 701.2 755.2C701.4 756.2 701.7 757.1 702.0 758.1C702.3 759.1 702.5 760.0 702.8 761.0C703.1 761.9 703.5 762.9 703.8 763.8C704.1 764.8 704.4 765.7 704.8 766.7C705.1 767.6 705.5 768.5 705.9 769.5C706.3 770.4 706.7 771.3 707.2 772.2C707.7 773.0 708.3 774.2 709.0 774.5C709.8 774.8 711.0 774.5 711.7 774.0C712.5 773.5 713.0 772.5 713.6 771.6C714.1 770.8 714.4 769.8 714.8 768.9C715.2 768.0 715.6 767.1 715.9 766.1C716.3 765.2 716.6 764.2 716.9 763.3C717.2 762.3 717.6 761.4 717.9 760.4C718.2 759.5 718.4 758.5 718.7 757.6C719.0 756.6 719.3 755.6 719.5 754.7C719.8 753.7 720.0 752.7 720.2 751.7C720.5 750.8 720.7 749.8 720.9 748.8C721.1 747.8 721.4 746.9 721.6 745.9C721.8 744.9 722.0 743.9 722.2 743.0C722.5 742.0 722.7 741.0 722.9 740.0C723.2 739.1 723.4 738.1 723.7 737.1C723.9 736.1 724.1 735.2 724.4 734.2C724.6 733.2 724.8 732.3 725.1 731.3C725.3 730.3 725.6 729.3 725.8 728.4C726.0 727.4 726.2 726.4 726.4 725.4C726.6 724.4 726.9 723.5 727.1 722.5C727.3 721.5 727.5 720.5 727.8 719.6C728.0 718.6 728.3 717.6 728.6 716.7C728.9 715.7 729.3 714.8 729.7 713.9C730.2 713.0 730.6 712.1 731.2 711.3C731.8 710.5 732.4 709.4 733.2 709.1C734.0 708.8 735.2 709.1 736.0 709.6C736.7 710.0 737.3 711.1 737.8 711.9C738.3 712.8 738.7 713.7 739.1 714.6C739.5 715.5 739.9 716.5 740.2 717.4C740.5 718.4 740.8 719.3 741.1 720.3C741.4 721.3 741.7 722.2 742.0 723.2C742.2 724.1 742.5 725.1 742.8 726.1C743.0 727.0 743.3 728.0 743.6 729.0C743.8 729.9 744.1 730.9 744.3 731.9C744.6 732.8 744.9 733.8 745.1 734.8C745.4 735.7 745.7 736.7 745.9 737.7C746.2 738.6 746.5 739.6 746.7 740.6C747.0 741.5 747.2 742.5 747.5 743.5C747.8 744.4 748.0 745.4 748.3 746.4C748.5 747.3 748.8 748.3 749.0 749.3C749.3 750.2 749.5 751.2 749.8 752.2C750.1 753.1 750.3 754.1 750.6 755.1C750.9 756.0 751.2 757.0 751.5 758.0C751.8 758.9 752.1 759.9 752.4 760.8C752.7 761.8 753.0 762.7 753.4 763.7C753.7 764.6 754.0 765.6 754.4 766.5C754.8 767.4 755.1 768.4 755.5 769.3C755.9 770.2 756.3 771.1 756.8 772.0C757.3 772.8 757.8 773.8 758.5 774.5C759.2 775.1 760.3 775.7 761.1 775.7C762.0 775.7 763.1 775.1 763.8 774.5C764.5 773.8 764.9 772.8 765.4 771.9C765.9 771.1 766.2 770.1 766.6 769.2C767.0 768.3 767.3 767.3 767.6 766.4C768.0 765.4 768.3 764.5 768.6 763.5C769.0 762.6 769.3 761.6 769.6 760.7C769.9 759.8 770.3 758.8 770.6 757.9C770.9 756.9 771.2 756.0 771.5 755.0C771.9 754.1 772.2 753.1 772.5 752.2C772.8 751.2 773.1 750.3 773.4 749.3C773.7 748.3 774.0 747.4 774.3 746.4C774.7 745.5 775.0 744.5 775.3 743.6C775.6 742.6 776.0 741.7 776.3 740.8C776.6 739.8 777.0 738.9 777.3 737.9C777.7 737.0 778.0 736.1 778.4 735.1C778.8 734.2 779.1 733.3 779.5 732.3C779.9 731.4 780.3 730.5 780.7 729.6C781.1 728.7 781.5 727.8 782.0 726.9C782.5 726.0 783.0 725.1 783.5 724.3C784.1 723.4 784.6 722.6 785.2 721.8C785.8 721.0 786.4 720.2 787.0 719.4C787.7 718.6 788.3 717.9 789.0 717.2C789.7 716.5 790.5 715.8 791.2 715.1C792.0 714.5 792.8 713.9 793.6 713.3C794.4 712.7 795.3 712.2 796.2 711.7C797.0 711.2 797.9 710.8 798.8 710.3C799.8 709.9 800.7 709.5 801.6 709.2C802.6 708.9 803.6 708.7 804.5 708.5C805.5 708.3 806.5 708.2 807.5 708.0C808.5 707.9 809.5 707.9 810.5 707.8C811.5 707.7 812.5 707.6 813.5 707.5C814.5 707.5 815.5 707.4 816.5 707.4C817.5 707.5 818.5 707.5 819.5 707.7C820.5 707.8 821.5 708.0 822.4 708.2C823.4 708.5 824.4 708.8 825.3 709.1C826.2 709.5 827.1 710.0 828.0 710.5C828.9 711.0 829.7 711.5 830.5 712.1C831.3 712.7 832.1 713.3 832.9 713.9C833.7 714.6 834.4 715.2 835.2 715.9C835.9 716.5 836.7 717.2 837.4 717.9C838.1 718.6 838.8 719.3 839.5 720.1C840.2 720.8 840.9 721.5 841.5 722.3C842.2 723.0 842.8 723.8 843.5 724.6C844.1 725.3 844.8 726.1 845.4 726.9C846.0 727.7 846.6 728.5 847.2 729.3C847.8 730.1 848.4 730.9 849.0 731.7C849.6 732.5 850.1 733.3 850.7 734.2C851.2 735.0 851.8 735.9 852.3 736.7C852.8 737.6 853.4 738.4 853.9 739.3C854.4 740.1 854.8 741.0 855.3 741.9C855.8 742.8 856.3 743.7 856.7 744.6C857.2 745.4 857.6 746.3 858.1 747.2C858.5 748.1 859.0 749.0 859.4 749.9C859.8 750.8 860.3 751.8 860.7 752.7C861.1 753.6 861.5 754.5 861.9 755.4C862.3 756.3 862.7 757.2 863.1 758.2C863.5 759.1 863.8 760.0 864.2 761.0C864.6 761.9 864.9 762.8 865.3 763.8C865.6 764.7 865.9 765.7 866.2 766.6C866.5 767.6 866.8 768.5 867.1 769.5C867.4 770.4 867.7 771.4 868.0 772.4C868.3 773.3 868.5 774.3 868.8 775.3C869.1 776.2 869.3 777.2 869.6 778.2C869.8 779.1 870.1 780.1 870.4 781.1C870.6 782.0 870.9 783.0 871.1 784.0C871.4 784.9 871.7 785.9 871.9 786.9C872.2 787.8 872.4 788.8 872.7 789.8C872.9 790.8 873.1 791.7 873.4 792.7C873.6 793.7 873.9 794.6 874.1 795.6C874.3 796.6 874.6 797.6 874.8 798.5C875.0 799.5 875.3 800.5 875.5 801.5C875.8 802.4 876.0 803.4 876.2 804.4C876.5 805.3 876.7 806.3 877.0 807.3C877.2 808.3 877.5 809.2 877.8 810.2C878.0 811.2 878.3 812.1 878.5 813.1C878.8 814.1 879.1 815.0 879.3 816.0C879.6 817.0 879.9 817.9 880.1 818.9C880.4 819.8 880.7 820.8 880.9 821.8C881.2 822.7 881.5 823.7 881.7 824.7C882.0 825.6 882.3 826.6 882.5 827.6C882.8 828.5 883.1 829.5 883.3 830.5C883.6 831.4 883.9 832.4 884.1 833.4C884.4 834.3 884.6 835.3 884.9 836.3C885.1 837.3 885.3 838.2 885.6 839.2C885.8 840.2 886.1 841.1 886.3 842.1C886.5 843.1 886.8 844.1 887.0 845.0C887.3 846.0 887.5 847.0 887.7 847.9C888.0 848.9 888.2 849.9 888.5 850.9C888.7 851.8 889.0 852.8 889.2 853.8C889.5 854.7 889.8 855.7 890.0 856.7C890.3 857.6 890.5 858.6 890.8 859.6C891.1 860.5 891.4 861.5 891.7 862.5C892.0 863.4 892.3 864.4 892.6 865.3C892.9 866.3 893.2 867.2 893.6 868.2C893.9 869.1 894.2 870.1 894.6 871.0C894.9 871.9 895.2 872.9 895.6 873.8C895.9 874.8 896.3 875.7 896.7 876.6C897.1 877.5 897.5 878.5 897.9 879.4C898.3 880.3 898.8 881.2 899.3 882.0C899.7 882.9 900.3 883.8 900.8 884.6C901.3 885.5 901.8 886.3 902.4 887.2C903.0 888.0 903.6 888.8 904.3 889.5C904.9 890.3 905.6 891.0 906.2 891.8C906.9 892.5 907.6 893.3 908.3 894.0C909.0 894.7 909.7 895.4 910.6 895.9C911.4 896.4 912.4 897.0 913.3 897.0C914.3 897.0 915.3 896.5 916.1 896.1C917.0 895.6 917.7 894.9 918.4 894.1C919.0 893.4 919.4 892.4 919.9 891.5C920.4 890.7 920.9 889.8 921.3 888.9C921.7 888.0 922.2 887.1 922.5 886.1C922.9 885.2 923.3 884.3 923.6 883.3C923.9 882.4 924.2 881.4 924.6 880.5C924.9 879.5 925.2 878.6 925.5 877.6C925.8 876.7 926.1 875.7 926.3 874.7C926.6 873.8 926.9 872.8 927.2 871.8C927.5 870.9 927.7 869.9 928.0 869.0C928.3 868.0 928.6 867.0 928.9 866.1C929.1 865.1 929.4 864.2 929.7 863.2C930.0 862.2 930.3 861.3 930.5 860.3C930.8 859.3 931.1 858.4 931.4 857.4C931.7 856.5 932.0 855.5 932.3 854.6C932.6 853.6 932.9 852.6 933.2 851.7C933.5 850.7 933.8 849.8 934.1 848.8C934.4 847.9 934.7 846.9 935.0 846.0C935.3 845.0 935.6 844.0 935.9 843.1C936.2 842.1 936.5 841.2 936.8 840.2C937.1 839.3 937.4 838.3 937.7 837.4C938.0 836.4 938.3 835.4 938.6 834.5C938.8 833.5 939.1 832.6 939.4 831.6C939.7 830.6 940.1 829.7 940.4 828.8C940.7 827.8 941.1 826.9 941.4 825.9C941.7 825.0 942.1 824.0 942.4 823.1C942.8 822.2 943.1 821.2 943.5 820.3C943.8 819.3 944.2 818.4 944.6 817.5C944.9 816.6 945.3 815.6 945.7 814.7C946.1 813.8 946.5 812.9 946.9 811.9C947.3 811.0 947.7 810.1 948.1 809.2C948.5 808.3 949.0 807.4 949.4 806.5C949.8 805.6 950.3 804.7 950.7 803.8C951.2 802.9 951.6 802.0 952.1 801.1C952.5 800.2 953.0 799.3 953.5 798.5C954.0 797.6 954.5 796.7 955.0 795.8C955.5 795.0 956.0 794.1 956.5 793.2C957.0 792.4 957.5 791.5 958.0 790.7C958.6 789.8 959.1 789.0 959.7 788.1C960.2 787.3 960.8 786.5 961.3 785.6C961.9 784.8 962.5 784.0 963.0 783.2C963.6 782.3 964.2 781.5 964.8 780.7C965.4 779.9 966.0 779.1 966.6 778.3C967.2 777.6 967.9 776.8 968.5 776.0C969.2 775.2 969.8 774.5 970.4 773.7C971.1 772.9 971.8 772.2 972.4 771.4C973.1 770.7 973.8 769.9 974.4 769.2C975.1 768.5 975.8 767.8 976.5 767.0C977.2 766.3 977.9 765.6 978.6 764.9C979.4 764.2 980.1 763.5 980.8 762.8C981.5 762.1 982.3 761.5 983.0 760.8C983.7 760.1 984.5 759.4 985.2 758.8C986.0 758.1 986.7 757.5 987.5 756.8C988.3 756.2 989.0 755.5 989.8 754.9C990.6 754.3 991.4 753.7 992.2 753.0C993.0 752.4 993.8 751.8 994.6 751.2C995.4 750.6 996.2 750.0 997.0 749.4C997.8 748.8 998.6 748.2 999.4 747.7C1000.3 747.1 1001.1 746.6 1001.9 746.0C1002.8 745.5 1003.6 744.9 1004.5 744.4C1005.3 743.8 1006.1 743.3 1007.0 742.8C1007.8 742.2 1008.7 741.7 1009.5 741.2C1010.4 740.7 1011.3 740.1 1012.1 739.6C1013.0 739.1 1013.9 738.6 1014.7 738.2C1015.6 737.7 1016.5 737.2 1017.4 736.7C1018.3 736.2 1019.1 735.8 1020.0 735.3C1020.9 734.8 1021.8 734.4 1022.7 733.9C1023.6 733.5 1024.5 733.0 1025.4 732.6C1026.3 732.1 1027.2 731.7 1028.1 731.3C1029.0 730.9 1029.9 730.4 1030.8 730.0C1031.7 729.6 1032.7 729.2 1033.6 728.8C1034.5 728.4 1035.4 728.0 1036.3 727.6C1037.3 727.2 1038.2 726.8 1039.1 726.5C1040.0 726.1 1041.0 725.7 1041.9 725.3C1042.8 725.0 1043.8 724.6 1044.7 724.3C1045.6 723.9 1046.6 723.6 1047.5 723.2C1048.5 722.9 1049.4 722.5 1050.3 722.2C1051.3 721.8 1052.2 721.5 1053.2 721.2C1054.1 720.8 1055.0 720.5 1056.0 720.2C1056.9 719.8 1057.9 719.5 1058.8 719.2C1059.8 718.9 1060.7 718.6 1061.7 718.3C1062.7 718.0 1063.6 717.7 1064.6 717.4C1065.5 717.1 1066.5 716.8 1067.5 716.5C1068.4 716.3 1069.4 716.0 1070.3 715.7C1071.3 715.4 1072.3 715.1 1073.2 714.9C1074.2 714.6 1075.2 714.3 1076.1 714.0C1077.1 713.8 1078.1 713.5 1079.0 713.3C1080.0 713.0 1081.0 712.8 1081.9 712.5C1082.9 712.3 1083.9 712.0 1084.9 711.8C1085.8 711.6 1086.8 711.3 1087.8 711.1C1088.8 710.9 1089.7 710.7 1090.7 710.4C1091.7 710.2 1092.6 709.9 1093.6 709.7C1094.6 709.5 1095.6 709.2 1096.5 709.0C1097.5 708.8 1098.5 708.6 1099.5 708.4C1100.5 708.2 1101.5 708.0 1102.4 707.8C1103.4 707.6 1104.4 707.4 1105.4 707.2C1106.4 707.0 1107.3 706.8 1108.3 706.6C1109.3 706.4 1110.3 706.2 1111.3 706.1C1112.3 705.9 1113.2 705.7 1114.2 705.5C1115.2 705.3 1116.2 705.1 1117.2 704.9C1118.2 704.7 1119.1 704.6 1120.1 704.4C1121.1 704.2 1122.1 704.0 1123.1 703.8C1124.1 703.7 1125.1 703.5 1126.1 703.3C1127.0 703.1 1128.0 703.0 1129.0 702.8C1130.0 702.7 1131.0 702.5 1132.0 702.3C1133.0 702.2 1134.0 702.0 1134.9 701.9C1135.9 701.7 1136.9 701.5 1137.9 701.4C1138.9 701.2 1139.9 701.1 1140.9 700.9C1141.9 700.8 1142.9 700.6 1143.9 700.5C1144.8 700.3 1145.8 700.2 1146.8 700.1C1147.8 699.9 1148.8 699.8 1149.8 699.6C1150.8 699.5 1151.8 699.3 1152.8 699.2C1153.8 699.1 1154.8 698.9 1155.8 698.8C1156.8 698.7 1157.7 698.5 1158.7 698.4C1159.7 698.3 1160.7 698.2 1161.7 698.0C1162.7 697.9 1163.7 697.8 1164.7 697.6C1165.7 697.5 1166.7 697.4 1167.7 697.3C1168.7 697.2 1169.7 697.0 1170.7 696.9C1171.7 696.8 1172.7 696.7 1173.6 696.6C1174.6 696.4 1175.6 696.3 1176.6 696.2C1177.6 696.1 1178.6 696.0 1179.6 695.9C1180.6 695.8 1181.6 695.6 1182.6 695.5C1183.6 695.4 1184.6 695.3 1185.6 695.2C1186.6 695.1 1187.6 695.0 1188.6 694.9C1189.6 694.8 1190.6 694.7 1191.6 694.6C1192.6 694.5 1193.6 694.3 1194.6 694.2C1195.6 694.1 1196.5 694.0 1197.5 693.9C1198.5 693.8 1199.5 693.7 1200.5 693.6C1201.5 693.6 1202.5 693.5 1203.5 693.4C1204.5 693.3 1205.5 693.2 1206.5 693.1C1207.5 693.0 1208.5 692.9 1209.5 692.8C1210.5 692.7 1211.5 692.6 1212.5 692.6C1213.5 692.5 1214.5 692.4 1215.5 692.3C1216.5 692.2 1217.5 692.1 1218.5 692.0C1219.5 692.0 1220.5 691.9 1221.5 691.8C1222.5 691.7 1223.5 691.6 1224.5 691.5C1225.5 691.5 1226.5 691.4 1227.5 691.3C1228.5 691.2 1229.5 691.1 1230.5 691.0C1231.5 691.0 1232.5 690.9 1233.5 690.8C1234.5 690.7 1235.5 690.6 1236.5 690.6C1237.5 690.5 1238.5 690.4 1239.5 690.3C1240.5 690.2 1241.5 690.2 1242.5 690.1C1243.5 690.0 1244.5 689.9 1245.5 689.8C1246.4 689.8 1247.4 689.7 1248.4 689.6C1249.4 689.5 1250.4 689.5 1251.4 689.4C1252.4 689.3 1253.4 689.2 1254.4 689.2C1255.4 689.1 1256.4 689.0 1257.4 688.9C1258.4 688.9 1259.4 688.8 1260.4 688.7C1261.4 688.6 1262.4 688.6 1263.4 688.5C1264.4 688.4 1265.4 688.4 1266.4 688.3C1267.4 688.2 1268.4 688.1 1269.4 688.1C1270.4 688.0 1271.4 687.9 1272.4 687.9C1273.4 687.8 1274.4 687.7 1275.4 687.7C1276.4 687.6 1277.4 687.5 1278.4 687.5C1279.4 687.4 1280.4 687.4 1281.4 687.3C1282.4 687.2 1283.4 687.2 1284.4 687.1C1285.4 687.0 1286.4 687.0 1287.4 686.9C1288.4 686.9 1289.4 686.8 1290.4 686.7C1291.4 686.7 1292.4 686.6 1293.4 686.6C1294.4 686.5 1295.4 686.5 1296.4 686.4C1297.4 686.3 1298.4 686.3 1299.4 686.2C1300.4 686.2 1301.4 686.1 1302.4 686.1C1303.4 686.0 1304.4 686.0 1305.4 685.9C1306.4 685.8 1307.4 685.8 1308.4 685.7C1309.4 685.7 1310.4 685.6 1311.4 685.6C1312.4 685.5 1313.4 685.5 1314.4 685.4C1315.4 685.4 1316.4 685.3 1317.4 685.3C1318.4 685.2 1319.4 685.2 1320.4 685.1C1321.4 685.1 1322.4 685.0 1323.4 685.0C1324.4 684.9 1325.4 684.9 1326.4 684.8C1327.4 684.8 1328.4 684.7 1329.4 684.7C1330.4 684.6 1331.4 684.6 1332.4 684.5C1333.4 684.5 1334.4 684.4 1335.4 684.4C1336.4 684.3 1337.4 684.3 1338.4 684.2C1339.4 684.2 1340.4 684.1 1341.4 684.1C1342.4 684.0 1343.4 684.0 1344.4 684.0C1345.4 683.9 1346.4 683.9 1347.4 683.8C1348.4 683.8 1349.4 683.7 1350.4 683.7C1351.4 683.6 1352.4 683.6 1353.4 683.6C1354.4 683.5 1355.4 683.5 1356.4 683.4C1357.4 683.4 1358.4 683.3 1359.4 683.3C1360.5 683.3 1361.5 683.2 1362.5 683.2C1363.5 683.1 1364.5 683.1 1365.5 683.1C1366.5 683.0 1367.5 683.0 1368.5 682.9C1369.5 682.9 1370.5 682.9 1371.5 682.8C1372.5 682.8 1373.5 682.8 1374.5 682.7C1375.5 682.7 1376.5 682.6 1377.5 682.6C1378.5 682.6 1379.5 682.5 1380.5 682.5C1381.5 682.5 1382.5 682.4 1383.5 682.4C1384.5 682.3 1385.5 682.3 1386.5 682.3C1387.5 682.2 1388.5 682.2 1389.5 682.2C1390.5 682.1 1391.5 682.1 1392.5 682.1C1393.5 682.0 1394.5 682.0 1395.5 681.9C1396.5 681.9 1397.5 681.9 1398.5 681.8C1399.5 681.8 1400.5 681.8 1401.5 681.7C1402.5 681.7 1403.5 681.7 1404.5 681.6C1405.5 681.6 1406.5 681.5 1407.5 681.5C1408.5 681.5 1410.0 681.4 1410.5 681.4" fill="none" stroke="#4d4d4d" stroke-width="4.9" stroke-linecap="round" stroke-linejoin="round"/>
<path d="M188.6 122.0C188.6 122.5 188.8 124.0 188.9 125.0C188.9 126.0 189.0 127.0 189.1 128.0C189.2 129.0 189.3 130.0 189.4 131.0C189.4 132.0 189.5 133.0 189.6 134.0C189.7 135.0 189.8 136.0 189.9 137.0C190.0 138.0 190.0 139.0 190.1 140.0C190.2 141.0 190.3 142.0 190.4 143.0C190.4 144.0 190.5 145.0 190.6 146.0C190.7 147.0 190.8 148.0 190.9 149.0C191.0 150.0 191.0 151.0 191.1 152.0C191.2 152.9 191.3 153.9 191.4 154.9C191.5 155.9 191.5 156.9 191.6 157.9C191.7 158.9 191.8 159.9 191.8 160.9C191.9 161.9 192.0 162.9 192.1 163.9C192.1 164.9 192.2 165.9 192.3 166.9C192.3 167.9 192.4 168.9 192.4 169.9C192.5 170.9 192.6 171.9 192.6 172.9C192.7 173.9 192.7 174.9 192.8 175.9C192.8 176.9 192.9 177.9 193.0 178.9C193.0 179.9 193.1 180.9 193.1 181.9C193.2 182.9 193.2 183.9 193.3 184.9C193.3 185.9 193.4 186.9 193.4 187.9C193.5 188.9 193.6 189.9 193.6 190.9C193.7 191.9 193.7 192.9 193.8 193.9C193.8 194.9 193.9 195.9 194.0 196.9C194.0 197.9 194.1 198.9 194.2 199.9C194.2 200.9 194.3 201.9 194.4 202.9C194.4 203.9 194.5 204.9 194.6 205.9C194.6 206.9 194.7 207.9 194.8 208.9C194.9 209.9 194.9 210.9 195.0 211.9C195.1 212.9 195.2 213.9 195.2 214.9C195.3 215.9 195.4 216.9 195.5 217.9C195.5 218.9 195.6 219.9 195.7 220.9C195.8 221.9 195.8 222.9 195.9 223.9C196.0 224.9 196.1 225.9 196.1 226.9C196.2 227.9 196.3 228.9 196.3 229.9C196.4 230.9 196.5 231.9 196.5 232.9C196.6 233.9 196.7 234.9 196.7 235.9C196.8 236.9 196.9 237.9 196.9 238.9C197.0 239.9 197.0 240.9 197.1 241.9C197.2 242.9 197.2 243.9 197.3 244.9C197.3 245.9 197.4 246.9 197.4 247.9C197.5 248.9 197.5 249.9 197.6 250.9C197.6 251.9 197.7 252.9 197.7 253.9C197.7 254.9 197.8 255.9 197.8 256.9C197.9 257.9 197.9 258.9 198.0 259.9C198.0 260.9 198.1 261.9 198.1 262.9C198.1 263.9 198.2 264.9 198.2 265.9C198.3 266.9 198.3 267.9 198.4 268.9C198.4 269.9 198.4 270.9 198.5 271.9C198.5 272.9 198.6 273.9 198.6 275.0C198.7 276.0 198.7 277.0 198.7 278.0C198.8 279.0 198.8 280.0 198.9 281.0C198.9 282.0 199.0 283.0 199.0 284.0C199.1 285.0 199.1 286.0 199.2 287.0C199.2 288.0 199.3 289.0 199.3 290.0C199.4 291.0 199.4 292.0 199.5 293.0C199.5 294.0 199.6 295.0 199.6 296.0C199.7 297.0 199.8 298.0 199.8 299.0C199.9 300.0 200.0 301.0 200.0 302.0C200.1 303.0 200.2 304.0 200.3 305.0C200.3 306.0 200.4 307.0 200.5 308.0C200.6 309.0 200.7 310.0 200.8 311.0C200.9 311.9 201.0 312.9 201.1 313.9C201.2 314.9 201.3 315.9 201.4 316.9C201.5 317.9 201.6 318.9 201.7 319.9C201.7 320.9 201.8 321.9 201.9 322.9C202.0 323.9 202.1 324.9 202.2 325.9C202.3 326.9 202.3 327.9 202.4 328.9C202.5 329.9 202.6 330.9 202.6 331.9C202.7 332.9 202.8 333.9 202.8 334.9C202.9 335.9 203.0 336.9 203.0 337.9C203.1 338.9 203.1 339.9 203.2 340.9C203.3 341.9 203.3 342.9 203.4 343.9C203.4 344.9 203.5 345.9 203.5 346.9C203.6 347.9 203.7 348.9 203.7 349.9C203.8 350.9 203.8 351.9 203.9 352.9C203.9 353.9 204.0 354.9 204.0 355.9C204.1 356.9 204.2 357.9 204.2 358.9C204.3 359.9 204.3 360.9 204.4 361.9C204.4 362.9 204.5 363.9 204.6 364.9C204.6 365.9 204.7 366.9 204.7 367.9C204.8 368.9 204.8 369.9 204.9 370.9C205.0 371.9 205.0 372.9 205.1 373.9C205.2 374.9 205.2 375.9 205.3 376.9C205.4 377.9 205.4 378.9 205.5 379.9C205.6 380.9 205.6 381.9 205.7 382.9C205.8 383.9 205.9 384.9 205.9 385.9C206.0 386.9 206.1 387.9 206.2 388.9C206.3 389.9 206.3 390.9 206.4 391.9C206.5 392.9 206.6 393.9 206.7 394.9C206.7 395.9 206.8 396.9 206.9 397.9C207.0 398.9 207.1 399.9 207.2 400.9C207.3 401.9 207.3 402.9 207.4 403.9C207.5 404.9 207.6 405.9 207.7 406.9C207.8 407.9 207.9 408.9 208.0 409.9C208.1 410.9 208.2 411.9 208.3 412.9C208.3 413.9 208.4 414.9 208.5 415.9C208.6 416.9 208.7 417.8 208.8 418.8C208.9 419.8 209.0 420.8 209.1 421.8C209.2 422.8 209.3 423.8 209.5 424.8C209.6 425.8 209.7 426.8 209.8 427.8C209.9 428.8 210.0 429.8 210.1 430.8C210.2 431.8 210.4 432.8 210.5 433.8C210.6 434.8 210.8 435.8 210.9 436.8C211.1 437.7 211.2 438.7 211.4 439.7C211.6 440.7 211.8 441.7 212.0 442.7C212.2 443.7 212.4 444.6 212.7 445.6C212.9 446.6 213.1 447.6 213.4 448.5C213.6 449.5 213.9 450.5 214.2 451.4C214.5 452.4 214.7 453.6 215.2 454.2C215.8 454.8 216.8 455.3 217.4 454.9C218.0 454.6 218.4 453.2 218.7 452.3C219.1 451.3 219.3 450.3 219.5 449.4C219.8 448.4 219.9 447.4 220.1 446.4C220.3 445.4 220.5 444.4 220.6 443.5C220.8 442.5 221.0 441.5 221.1 440.5C221.2 439.5 221.4 438.5 221.5 437.5C221.7 436.5 221.8 435.5 221.9 434.5C222.0 433.5 222.2 432.5 222.3 431.5C222.4 430.6 222.5 429.6 222.6 428.6C222.7 427.6 222.9 426.6 223.0 425.6C223.1 424.6 223.2 423.6 223.3 422.6C223.4 421.6 223.5 420.6 223.6 419.6C223.7 418.6 223.8 417.6 223.9 416.6C224.0 415.6 224.1 414.6 224.2 413.6C224.3 412.6 224.4 411.6 224.5 410.6C224.6 409.6 224.7 408.6 224.7 407.6C224.8 406.6 224.9 405.6 225.0 404.6C225.1 403.6 225.2 402.6 225.2 401.6C225.3 400.6 225.4 399.6 225.5 398.6C225.6 397.6 225.6 396.6 225.7 395.6C225.8 394.6 225.9 393.6 225.9 392.6C226.0 391.6 226.1 390.7 226.2 389.7C226.2 388.7 226.3 387.7 226.4 386.7C226.5 385.7 226.5 384.7 226.6 383.7C226.7 382.7 226.8 381.7 226.8 380.7C226.9 379.7 227.0 378.7 227.1 377.7C227.1 376.7 227.2 375.7 227.3 374.7C227.4 373.7 227.4 372.7 227.5 371.7C227.6 370.7 227.7 369.7 227.8 368.7C227.8 367.7 227.9 366.7 228.0 365.7C228.1 364.7 228.2 363.7 228.3 362.7C228.4 361.7 228.4 360.7 228.5 359.7C228.6 358.7 228.7 357.7 228.8 356.7C228.9 355.7 229.0 354.7 229.1 353.7C229.2 352.7 229.2 351.7 229.3 350.7C229.4 349.7 229.5 348.7 229.6 347.7C229.7 346.7 229.8 345.7 229.9 344.7C230.0 343.7 230.1 342.7 230.2 341.7C230.3 340.7 230.4 339.7 230.5 338.7C230.6 337.7 230.7 336.7 230.8 335.7C230.9 334.7 231.0 333.8 231.1 332.8C231.2 331.8 231.3 330.8 231.4 329.8C231.5 328.8 231.6 327.8 231.7 326.8C231.8 325.8 231.9 324.8 232.1 323.8C232.2 322.8 232.3 321.8 232.4 320.8C232.6 319.8 232.7 318.8 232.8 317.8C233.0 316.8 233.1 315.8 233.3 314.9C233.4 313.9 233.6 312.9 233.7 311.9C233.9 310.9 234.1 309.9 234.2 308.9C234.4 307.9 234.6 306.9 234.8 306.0C235.0 305.0 235.2 304.0 235.4 303.0C235.6 302.0 235.8 301.1 236.1 300.1C236.3 299.1 236.6 298.2 236.8 297.2C237.1 296.2 237.4 295.3 237.7 294.3C238.1 293.4 238.4 292.4 238.9 291.5C239.4 290.7 240.0 289.4 240.7 289.3C241.4 289.1 242.5 290.0 243.1 290.7C243.7 291.4 244.0 292.5 244.4 293.4C244.8 294.4 245.1 295.3 245.3 296.3C245.6 297.3 245.9 298.2 246.1 299.2C246.3 300.2 246.5 301.2 246.7 302.1C246.9 303.1 247.1 304.1 247.3 305.1C247.5 306.1 247.7 307.1 247.9 308.0C248.0 309.0 248.2 310.0 248.4 311.0C248.5 312.0 248.7 313.0 248.8 314.0C249.0 315.0 249.2 316.0 249.3 316.9C249.5 317.9 249.6 318.9 249.8 319.9C249.9 320.9 250.1 321.9 250.2 322.9C250.4 323.9 250.5 324.9 250.7 325.9C250.8 326.8 251.0 327.8 251.1 328.8C251.3 329.8 251.4 330.8 251.5 331.8C251.7 332.8 251.8 333.8 252.0 334.8C252.1 335.8 252.2 336.8 252.3 337.8C252.5 338.8 252.6 339.7 252.7 340.7C252.9 341.7 253.0 342.7 253.1 343.7C253.2 344.7 253.4 345.7 253.5 346.7C253.6 347.7 253.7 348.7 253.9 349.7C254.0 350.7 254.1 351.7 254.2 352.7C254.4 353.7 254.5 354.7 254.6 355.7C254.8 356.6 254.9 357.6 255.0 358.6C255.2 359.6 255.3 360.6 255.4 361.6C255.6 362.6 255.7 363.6 255.8 364.6C256.0 365.6 256.1 366.6 256.3 367.6C256.4 368.6 256.6 369.5 256.7 370.5C256.9 371.5 257.0 372.5 257.2 373.5C257.3 374.5 257.5 375.5 257.6 376.5C257.8 377.5 257.9 378.5 258.1 379.4C258.2 380.4 258.4 381.4 258.6 382.4C258.7 383.4 258.9 384.4 259.1 385.4C259.2 386.4 259.4 387.4 259.6 388.3C259.7 389.3 259.9 390.3 260.1 391.3C260.3 392.3 260.4 393.3 260.6 394.3C260.8 395.2 261.0 396.2 261.2 397.2C261.4 398.2 261.6 399.2 261.8 400.1C262.1 401.1 262.3 402.1 262.5 403.1C262.8 404.0 263.0 405.0 263.3 406.0C263.6 406.9 263.9 407.9 264.3 408.8C264.6 409.8 264.9 410.7 265.4 411.6C265.8 412.5 266.2 413.8 266.9 414.2C267.7 414.5 268.9 414.2 269.7 413.8C270.5 413.4 271.2 412.5 271.8 411.7C272.5 411.0 273.0 410.1 273.6 409.3C274.1 408.4 274.6 407.5 275.1 406.6C275.5 405.8 276.0 404.9 276.4 404.0C276.9 403.1 277.3 402.2 277.7 401.2C278.1 400.3 278.5 399.4 278.9 398.5C279.3 397.6 279.7 396.7 280.1 395.7C280.5 394.8 280.9 393.9 281.3 393.0C281.6 392.0 282.0 391.1 282.4 390.2C282.7 389.2 283.1 388.3 283.4 387.4C283.8 386.4 284.1 385.5 284.5 384.5C284.8 383.6 285.2 382.7 285.5 381.7C285.9 380.8 286.2 379.8 286.6 378.9C286.9 378.0 287.2 377.0 287.5 376.1C287.9 375.1 288.2 374.2 288.5 373.2C288.8 372.2 289.1 371.3 289.3 370.3C289.6 369.4 289.9 368.4 290.2 367.4C290.4 366.5 290.7 365.5 290.9 364.5C291.2 363.6 291.4 362.6 291.7 361.6C291.9 360.6 292.1 359.7 292.3 358.7C292.5 357.7 292.8 356.7 293.0 355.7C293.2 354.8 293.4 353.8 293.6 352.8C293.8 351.8 294.0 350.8 294.1 349.8C294.3 348.9 294.5 347.9 294.7 346.9C294.9 345.9 295.0 344.9 295.2 343.9C295.4 342.9 295.5 342.0 295.7 341.0C295.9 340.0 296.0 339.0 296.2 338.0C296.3 337.0 296.5 336.0 296.6 335.0C296.8 334.0 297.0 333.0 297.1 332.1C297.2 331.1 297.4 330.1 297.5 329.1C297.7 328.1 297.8 327.1 298.0 326.1C298.1 325.1 298.2 324.1 298.4 323.1C298.5 322.1 298.6 321.1 298.8 320.2C298.9 319.2 299.0 318.2 299.2 317.2C299.3 316.2 299.4 315.2 299.5 314.2C299.7 313.2 299.8 312.2 299.9 311.2C300.0 310.2 300.2 309.2 300.3 308.2C300.4 307.2 300.5 306.2 300.6 305.2C300.8 304.2 300.9 303.3 301.0 302.3C301.1 301.3 301.3 300.3 301.4 299.3C301.5 298.3 301.6 297.3 301.7 296.3C301.9 295.3 302.0 294.3 302.1 293.3C302.2 292.3 302.3 291.3 302.5 290.3C302.6 289.3 302.7 288.3 302.8 287.3C302.9 286.3 303.0 285.3 303.2 284.4C303.3 283.4 303.4 282.4 303.5 281.4C303.7 280.4 303.8 279.4 303.9 278.4C304.0 277.4 304.1 276.4 304.3 275.4C304.4 274.4 304.5 273.4 304.6 272.4C304.7 271.4 304.9 270.4 305.0 269.4C305.1 268.4 305.2 267.4 305.3 266.4C305.4 265.4 305.5 264.5 305.6 263.5C305.8 262.5 305.9 261.5 306.0 260.5C306.1 259.5 306.2 258.5 306.3 257.5C306.5 256.5 306.6 255.5 306.7 254.5C306.8 253.5 306.9 252.5 307.1 251.5C307.2 250.5 307.3 249.5 307.4 248.5C307.5 247.5 307.7 246.5 307.8 245.6C307.9 244.6 308.0 243.6 308.2 242.6C308.3 241.6 308.4 240.6 308.5 239.6C308.7 238.6 308.8 237.6 308.9 236.6C309.0 235.6 309.1 234.6 309.3 233.6C309.4 232.6 309.5 231.6 309.6 230.6C309.8 229.6 309.9 228.6 310.0 227.7C310.1 226.7 310.3 225.7 310.4 224.7C310.5 223.7 310.7 222.7 310.8 221.7C310.9 220.7 311.0 219.7 311.2 218.7C311.3 217.7 311.4 216.7 311.6 215.7C311.7 214.7 311.8 213.7 311.9 212.8C312.1 211.8 312.2 210.8 312.3 209.8C312.5 208.8 312.6 207.8 312.8 206.8C312.9 205.8 313.0 204.8 313.2 203.8C313.3 202.8 313.5 201.8 313.6 200.8C313.8 199.9 313.9 198.9 314.1 197.9C314.2 196.9 314.4 195.9 314.6 194.9C314.7 193.9 314.9 192.9 315.1 192.0C315.4 191.0 315.6 190.0 315.9 189.0C316.2 188.1 316.5 187.1 316.8 186.2C317.2 185.3 317.5 184.2 318.0 183.4C318.6 182.6 319.3 181.7 320.2 181.4C321.0 181.1 322.1 181.3 323.1 181.6C324.0 181.9 324.7 182.7 325.6 183.2C326.4 183.7 327.3 184.2 328.2 184.7C329.0 185.3 329.9 185.8 330.8 186.3C331.6 186.8 332.5 187.2 333.4 187.7C334.3 188.1 335.2 188.5 336.2 188.9C337.1 189.2 338.1 189.7 339.0 189.8C340.0 189.9 341.1 189.7 341.9 189.3C342.8 188.9 343.6 188.2 344.3 187.5C344.9 186.7 345.3 185.8 345.8 184.9C346.2 184.0 346.5 183.0 346.8 182.1C347.1 181.1 347.3 180.1 347.6 179.2C347.8 178.2 348.0 177.2 348.3 176.2C348.5 175.3 348.7 174.3 349.0 173.3C349.2 172.3 349.4 171.4 349.6 170.4C349.9 169.4 350.1 168.4 350.3 167.4C350.5 166.5 350.7 165.5 350.9 164.5C351.0 163.5 351.2 162.5 351.4 161.5C351.5 160.5 351.7 159.6 351.9 158.6C352.1 157.6 352.2 156.6 352.4 155.6C352.6 154.6 352.8 153.7 353.1 152.7C353.3 151.7 353.5 150.7 353.7 149.7C353.9 148.8 354.2 147.8 354.4 146.8C354.6 145.8 354.8 144.9 355.0 143.9C355.2 142.9 355.4 141.9 355.7 140.9C355.9 140.0 356.1 139.0 356.3 138.0C356.5 137.0 356.7 136.0 356.9 135.0C357.1 134.1 357.3 133.1 357.5 132.1C357.7 131.1 357.9 130.1 358.1 129.2C358.3 128.2 358.4 127.2 358.6 126.2C358.8 125.2 359.0 124.2 359.2 123.2C359.3 122.3 359.5 121.3 359.7 120.3C360.0 119.3 360.2 118.3 360.4 117.4C360.7 116.4 360.9 115.4 361.2 114.5C361.5 113.5 361.7 112.5 362.0 111.6C362.3 110.6 362.6 109.6 362.9 108.7C363.3 107.8 363.7 106.8 364.1 105.9C364.6 105.1 365.1 103.8 365.8 103.4C366.4 103.1 367.6 103.2 368.2 103.7C368.9 104.2 369.3 105.4 369.7 106.3C370.1 107.2 370.2 108.3 370.5 109.2C370.7 110.2 370.9 111.2 371.1 112.2C371.3 113.2 371.5 114.1 371.6 115.1C371.8 116.1 372.0 117.1 372.2 118.1C372.4 119.1 372.5 120.1 372.7 121.0C372.9 122.0 373.0 123.0 373.2 124.0C373.3 125.0 373.5 126.0 373.6 127.0C373.7 128.0 373.9 129.0 374.0 130.0C374.1 131.0 374.3 131.9 374.4 132.9C374.6 133.9 374.7 134.9 374.9 135.9C375.0 136.9 375.1 137.9 375.3 138.9C375.4 139.9 375.6 140.9 375.7 141.9C375.9 142.9 376.0 143.8 376.1 144.8C376.3 145.8 376.4 146.8 376.5 147.8C376.7 148.8 376.8 149.8 376.9 150.8C377.1 151.8 377.2 152.8 377.3 153.8C377.4 154.8 377.5 155.8 377.7 156.8C377.8 157.8 377.9 158.8 378.0 159.7C378.1 160.7 378.3 161.7 378.4 162.7C378.5 163.7 378.6 164.7 378.7 165.7C378.8 166.7 378.9 167.7 379.0 168.7C379.1 169.7 379.2 170.7 379.3 171.7C379.3 172.7 379.4 173.7 379.5 174.7C379.6 175.7 379.6 176.7 379.7 177.7C379.8 178.7 379.8 179.7 379.9 180.7C380.0 181.7 380.0 182.7 380.1 183.7C380.2 184.7 380.2 185.7 380.3 186.7C380.4 187.7 380.4 188.7 380.5 189.7C380.6 190.7 380.6 191.7 380.7 192.7C380.8 193.7 380.8 194.7 380.9 195.7C381.0 196.7 381.1 197.7 381.1 198.7C381.2 199.7 381.3 200.7 381.4 201.7C381.5 202.7 381.6 203.7 381.7 204.7C381.8 205.7 381.9 206.7 382.0 207.7C382.1 208.7 382.2 209.7 382.3 210.7C382.4 211.7 382.5 212.7 382.6 213.6C382.7 214.6 382.8 215.6 382.9 216.6C383.0 217.6 383.1 218.6 383.2 219.6C383.3 220.6 383.4 221.6 383.5 222.6C383.6 223.6 383.7 224.6 383.8 225.6C383.9 226.6 384.0 227.6 384.1 228.6C384.2 229.6 384.3 230.6 384.4 231.6C384.5 232.6 384.6 233.6 384.7 234.6C384.8 235.6 384.9 236.6 385.0 237.6C385.1 238.6 385.2 239.6 385.3 240.6C385.4 241.6 385.5 242.6 385.6 243.6C385.7 244.6 385.8 245.6 385.9 246.6C386.0 247.5 386.1 248.5 386.2 249.5C386.3 250.5 386.4 251.5 386.5 252.5C386.6 253.5 386.7 254.5 386.8 255.5C386.9 256.5 387.0 257.5 387.1 258.5C387.2 259.5 387.3 260.5 387.4 261.5C387.5 262.5 387.6 263.5 387.7 264.5C387.8 265.5 387.8 266.5 387.9 267.5C388.0 268.5 388.1 269.5 388.2 270.5C388.3 271.5 388.4 272.5 388.5 273.5C388.6 274.5 388.7 275.5 388.8 276.5C388.9 277.5 389.0 278.5 389.1 279.5C389.1 280.5 389.2 281.5 389.3 282.5C389.4 283.5 389.4 284.5 389.5 285.5C389.6 286.5 389.7 287.5 389.8 288.4C389.8 289.4 389.9 290.4 390.0 291.4C390.1 292.4 390.2 293.4 390.3 294.4C390.4 295.4 390.5 296.4 390.6 297.4C390.7 298.4 390.8 299.4 390.9 300.4C391.1 301.4 391.2 302.4 391.3 303.4C391.4 304.4 391.5 305.4 391.6 306.4C391.7 307.4 391.8 308.4 391.9 309.4C392.0 310.4 392.1 311.4 392.1 312.4C392.2 313.4 392.3 314.4 392.4 315.4C392.5 316.4 392.6 317.4 392.7 318.4C392.8 319.4 392.9 320.4 393.0 321.4C393.1 322.3 393.2 323.3 393.3 324.3C393.4 325.3 393.6 326.3 393.7 327.3C393.8 328.3 393.9 329.3 394.0 330.3C394.2 331.3 394.3 332.3 394.4 333.3C394.6 334.3 394.7 335.3 394.8 336.3C395.0 337.3 395.1 338.3 395.2 339.2C395.4 340.2 395.5 341.2 395.6 342.2C395.8 343.2 395.9 344.2 396.0 345.2C396.2 346.2 396.3 347.2 396.4 348.2C396.5 349.2 396.6 350.2 396.8 351.2C396.9 352.2 397.0 353.2 397.1 354.2C397.2 355.2 397.4 356.1 397.5 357.1C397.6 358.1 397.7 359.1 397.9 360.1C398.0 361.1 398.1 362.1 398.2 363.1C398.4 364.1 398.5 365.1 398.6 366.1C398.8 367.1 398.9 368.1 399.1 369.1C399.2 370.1 399.4 371.0 399.5 372.0C399.6 373.0 399.8 374.0 399.9 375.0C400.1 376.0 400.2 377.0 400.4 378.0C400.5 379.0 400.7 380.0 400.8 381.0C401.0 381.9 401.1 382.9 401.2 383.9C401.4 384.9 401.5 385.9 401.7 386.9C401.8 387.9 402.0 388.9 402.1 389.9C402.3 390.9 402.4 391.9 402.6 392.8C402.7 393.8 402.9 394.8 403.0 395.8C403.2 396.8 403.3 397.8 403.5 398.8C403.6 399.8 403.8 400.8 403.9 401.8C404.1 402.8 404.3 403.7 404.4 404.7C404.6 405.7 404.7 406.7 404.9 407.7C405.1 408.7 405.2 409.7 405.4 410.7C405.5 411.7 405.7 412.6 405.9 413.6C406.0 414.6 406.2 415.6 406.4 416.6C406.6 417.6 406.7 418.6 406.9 419.6C407.1 420.5 407.2 421.5 407.4 422.5C407.6 423.5 407.8 424.5 407.9 425.5C408.1 426.5 408.3 427.4 408.5 428.4C408.6 429.4 408.8 430.4 409.0 431.4C409.2 432.4 409.4 433.4 409.5 434.3C409.7 435.3 409.9 436.3 410.1 437.3C410.3 438.3 410.5 439.3 410.7 440.3C410.8 441.2 411.0 442.2 411.2 443.2C411.4 444.2 411.6 445.2 411.8 446.2C412.0 447.1 412.2 448.1 412.4 449.1C412.6 450.1 412.8 451.1 413.0 452.0C413.2 453.0 413.4 454.0 413.6 455.0C413.8 456.0 414.0 457.0 414.2 457.9C414.4 458.9 414.6 459.9 414.8 460.9C415.0 461.9 415.2 462.9 415.3 463.8C415.5 464.8 415.7 465.8 415.9 466.8C416.1 467.8 416.3 468.8 416.5 469.7C416.7 470.7 416.9 471.7 417.1 472.7C417.3 473.7 417.5 474.6 417.7 475.6C417.9 476.6 418.1 477.6 418.3 478.6C418.4 479.6 418.6 480.5 418.8 481.5C419.0 482.5 419.2 483.5 419.4 484.5C419.6 485.5 419.8 486.4 420.0 487.4C420.2 488.4 420.4 489.4 420.6 490.4C420.8 491.4 421.0 492.3 421.2 493.3C421.4 494.3 421.7 495.3 421.9 496.2C422.1 497.2 422.3 498.2 422.6 499.2C422.8 500.1 423.1 501.1 423.3 502.1C423.6 503.1 423.8 504.0 424.1 505.0C424.4 506.0 424.6 506.9 424.9 507.9C425.2 508.8 425.5 509.8 425.7 510.8C426.0 511.7 426.3 512.7 426.6 513.7C426.9 514.6 427.2 515.6 427.4 516.5C427.7 517.5 428.0 518.5 428.3 519.4C428.6 520.4 428.9 521.3 429.2 522.3C429.4 523.3 429.7 524.2 430.0 525.2C430.3 526.1 430.6 527.1 430.8 528.1C431.1 529.0 431.4 530.0 431.6 531.0C431.9 531.9 432.2 532.9 432.4 533.9C432.7 534.8 432.9 535.8 433.2 536.8C433.4 537.7 433.7 538.7 433.9 539.7C434.2 540.7 434.4 541.6 434.7 542.6C434.9 543.6 435.1 544.5 435.4 545.5C435.6 546.5 435.9 547.5 436.1 548.4C436.3 549.4 436.6 550.4 436.8 551.4C437.0 552.3 437.3 553.3 437.5 554.3C437.8 555.3 438.0 556.2 438.2 557.2C438.5 558.2 438.7 559.1 438.9 560.1C439.2 561.1 439.4 562.1 439.7 563.0C439.9 564.0 440.1 565.0 440.4 566.0C440.6 566.9 440.9 567.9 441.1 568.9C441.4 569.8 441.6 570.8 441.9 571.8C442.1 572.8 442.3 573.7 442.6 574.7C442.8 575.7 443.1 576.6 443.3 577.6C443.6 578.6 443.8 579.6 444.1 580.5C444.3 581.5 444.6 582.5 444.8 583.4C445.0 584.4 445.3 585.4 445.5 586.4C445.8 587.3 446.0 588.3 446.3 589.3C446.5 590.2 446.8 591.2 447.0 592.2C447.3 593.1 447.5 594.1 447.8 595.1C448.0 596.1 448.3 597.0 448.6 598.0C448.8 599.0 449.1 599.9 449.3 600.9C449.6 601.9 449.8 602.8 450.1 603.8C450.3 604.8 450.6 605.7 450.9 606.7C451.1 607.7 451.4 608.6 451.6 609.6C451.9 610.6 452.2 611.5 452.4 612.5C452.7 613.5 453.0 614.5 453.2 615.4C453.5 616.4 453.7 617.4 454.0 618.3C454.3 619.3 454.5 620.2 454.8 621.2C455.1 622.2 455.3 623.1 455.6 624.1C455.9 625.1 456.1 626.0 456.4 627.0C456.7 628.0 457.0 628.9 457.2 629.9C457.5 630.9 457.8 631.8 458.0 632.8C458.3 633.8 458.6 634.7 458.9 635.7C459.1 636.7 459.4 637.6 459.7 638.6C460.0 639.5 460.2 640.5 460.5 641.5C460.8 642.4 461.1 643.4 461.3 644.4C461.6 645.3 461.9 646.3 462.2 647.2C462.5 648.2 462.7 649.2 463.0 650.1C463.3 651.1 463.6 652.0 463.9 653.0C464.2 654.0 464.5 654.9 464.7 655.9C465.0 656.8 465.3 657.8 465.6 658.8C465.9 659.7 466.2 660.7 466.5 661.6C466.8 662.6 467.1 663.6 467.4 664.5C467.7 665.5 468.0 666.4 468.3 667.4C468.6 668.3 468.9 669.3 469.2 670.2C469.5 671.2 469.8 672.1 470.2 673.1C470.5 674.0 470.8 675.0 471.1 675.9C471.4 676.9 471.8 677.8 472.1 678.8C472.4 679.7 472.8 680.7 473.1 681.6C473.5 682.6 473.8 683.5 474.1 684.4C474.5 685.4 474.8 686.3 475.2 687.3C475.5 688.2 475.9 689.1 476.2 690.1C476.6 691.0 476.9 692.0 477.3 692.9C477.6 693.8 477.9 694.8 478.3 695.7C478.6 696.7 479.0 697.6 479.3 698.6C479.6 699.5 479.9 700.4 480.3 701.4C480.6 702.3 480.9 703.3 481.2 704.2C481.6 705.2 481.9 706.1 482.2 707.1C482.5 708.0 482.9 709.0 483.2 709.9C483.5 710.9 483.8 711.8 484.2 712.8C484.5 713.7 484.8 714.7 485.1 715.6C485.5 716.6 485.8 717.5 486.1 718.4C486.5 719.4 486.8 720.3 487.1 721.3C487.5 722.2 487.8 723.2 488.2 724.1C488.5 725.0 488.9 726.0 489.3 726.9C489.6 727.8 490.0 728.8 490.3 729.7C490.7 730.6 491.1 731.6 491.5 732.5C491.8 733.4 492.2 734.4 492.6 735.3C493.0 736.2 493.4 737.1 493.8 738.0C494.2 739.0 494.6 739.9 495.0 740.8C495.4 741.7 495.8 742.6 496.2 743.5C496.7 744.4 497.1 745.3 497.5 746.2C498.0 747.1 498.4 748.0 498.9 748.9C499.3 749.8 499.8 750.7 500.3 751.6C500.7 752.5 501.2 753.4 501.7 754.3C502.1 755.1 502.6 756.0 503.1 756.9C503.5 757.8 504.0 758.7 504.5 759.6C505.0 760.5 505.4 761.3 505.9 762.2C506.4 763.1 506.9 764.0 507.4 764.8C507.9 765.7 508.4 766.6 508.9 767.4C509.4 768.3 509.9 769.2 510.4 770.0C511.0 770.8 511.6 771.7 512.1 772.5C512.7 773.3 513.3 774.1 513.9 774.9C514.5 775.7 515.1 776.5 515.7 777.3C516.4 778.1 517.0 778.8 517.7 779.6C518.4 780.3 519.1 781.0 519.8 781.8C520.5 782.5 521.1 783.2 521.9 783.9C522.6 784.6 523.3 785.4 524.1 785.9C524.9 786.5 525.8 787.2 526.7 787.4C527.6 787.5 528.7 787.3 529.6 786.9C530.5 786.5 531.2 785.7 532.0 785.1C532.7 784.4 533.4 783.7 534.1 783.0C534.8 782.3 535.6 781.6 536.2 780.9C536.9 780.1 537.6 779.4 538.2 778.6C538.8 777.8 539.4 777.0 540.0 776.2C540.7 775.4 541.3 774.7 542.1 774.0C542.8 773.4 543.7 772.7 544.6 772.3C545.4 771.9 546.5 771.5 547.4 771.5C548.4 771.5 549.4 771.9 550.2 772.5C551.0 773.0 551.5 774.0 552.1 774.8C552.6 775.6 553.0 776.6 553.4 777.5C553.8 778.4 554.1 779.4 554.4 780.3C554.7 781.3 555.0 782.2 555.3 783.2C555.5 784.2 555.8 785.1 556.1 786.1C556.3 787.1 556.5 788.1 556.8 789.0C557.0 790.0 557.2 791.0 557.4 792.0C557.6 792.9 557.9 793.9 558.1 794.9C558.3 795.9 558.5 796.9 558.7 797.9C558.9 798.8 559.1 799.8 559.3 800.8C559.5 801.8 559.6 802.8 559.8 803.7C560.0 804.7 560.2 805.7 560.4 806.7C560.6 807.7 560.8 808.7 561.0 809.6C561.2 810.6 561.4 811.6 561.6 812.6C561.8 813.6 562.0 814.6 562.1 815.5C562.3 816.5 562.5 817.5 562.7 818.5C562.9 819.5 563.1 820.5 563.2 821.5C563.4 822.4 563.6 823.4 563.8 824.4C563.9 825.4 564.1 826.4 564.3 827.4C564.5 828.4 564.7 829.3 564.9 830.3C565.0 831.3 565.2 832.3 565.4 833.3C565.6 834.3 565.8 835.2 566.0 836.2C566.2 837.2 566.4 838.2 566.7 839.2C566.9 840.1 567.1 841.1 567.4 842.1C567.6 843.1 567.8 844.0 568.1 845.0C568.3 846.0 568.6 846.9 568.9 847.9C569.1 848.9 569.4 849.8 569.7 850.8C570.0 851.8 570.3 852.7 570.6 853.7C570.9 854.6 571.2 855.6 571.5 856.5C571.8 857.5 572.2 858.4 572.5 859.4C572.9 860.3 573.3 861.2 573.8 862.1C574.2 863.0 574.7 863.8 575.3 864.7C575.8 865.6 576.2 866.6 576.9 867.2C577.6 867.9 578.5 868.7 579.3 868.6C580.1 868.6 581.0 867.6 581.6 866.9C582.3 866.2 582.8 865.2 583.2 864.3C583.7 863.5 584.1 862.5 584.5 861.6C584.9 860.7 585.3 859.8 585.6 858.8C586.0 857.9 586.3 856.9 586.6 856.0C587.0 855.1 587.3 854.1 587.6 853.1C587.9 852.2 588.2 851.2 588.5 850.3C588.8 849.3 589.0 848.3 589.3 847.4C589.5 846.4 589.8 845.4 590.0 844.5C590.3 843.5 590.5 842.5 590.8 841.6C591.0 840.6 591.2 839.6 591.5 838.6C591.7 837.7 591.9 836.7 592.2 835.7C592.4 834.7 592.6 833.8 592.9 832.8C593.1 831.8 593.4 830.8 593.6 829.9C593.8 828.9 594.1 827.9 594.3 827.0C594.6 826.0 594.8 825.0 595.1 824.0C595.3 823.1 595.5 822.1 595.8 821.1C596.0 820.1 596.2 819.2 596.5 818.2C596.7 817.2 597.0 816.3 597.2 815.3C597.4 814.3 597.7 813.3 597.9 812.4C598.2 811.4 598.4 810.4 598.6 809.4C598.9 808.5 599.1 807.5 599.4 806.5C599.6 805.6 599.9 804.6 600.1 803.6C600.3 802.6 600.6 801.7 600.8 800.7C601.1 799.7 601.3 798.8 601.6 797.8C601.8 796.8 602.1 795.8 602.3 794.9C602.6 793.9 602.8 792.9 603.1 792.0C603.3 791.0 603.6 790.0 603.8 789.1C604.1 788.1 604.3 787.1 604.5 786.1C604.8 785.2 605.0 784.2 605.3 783.2C605.5 782.2 605.7 781.3 605.9 780.3C606.2 779.3 606.4 778.3 606.6 777.4C606.8 776.4 607.0 775.4 607.3 774.4C607.5 773.4 607.7 772.5 607.9 771.5C608.1 770.5 608.3 769.5 608.5 768.5C608.8 767.6 609.0 766.6 609.2 765.6C609.4 764.6 609.6 763.6 609.8 762.7C610.0 761.7 610.2 760.7 610.4 759.7C610.6 758.7 610.8 757.8 611.0 756.8C611.2 755.8 611.4 754.8 611.6 753.8C611.8 752.9 612.0 751.9 612.2 750.9C612.4 749.9 612.6 748.9 612.8 747.9C613.0 747.0 613.2 746.0 613.4 745.0C613.5 744.0 613.7 743.0 613.9 742.0C614.1 741.0 614.3 740.1 614.4 739.1C614.6 738.1 614.8 737.1 615.0 736.1C615.2 735.1 615.3 734.1 615.5 733.2C615.7 732.2 615.9 731.2 616.1 730.2C616.3 729.2 616.5 728.2 616.7 727.3C616.9 726.3 617.1 725.3 617.3 724.3C617.5 723.4 617.8 722.4 618.0 721.4C618.2 720.4 618.4 719.4 618.7 718.5C618.9 717.5 619.1 716.5 619.4 715.5C619.6 714.6 619.9 713.6 620.1 712.6C620.4 711.7 620.6 710.7 620.9 709.7C621.1 708.8 621.4 707.8 621.7 706.8C622.0 705.9 622.3 704.9 622.6 704.0C622.9 703.0 623.3 702.1 623.6 701.1C624.0 700.2 624.4 699.3 624.8 698.4C625.3 697.5 625.7 696.6 626.3 695.7C626.8 694.9 627.2 693.9 627.9 693.2C628.6 692.6 629.6 691.9 630.4 692.0C631.2 692.1 632.0 693.3 632.6 694.0C633.1 694.8 633.5 695.8 634.0 696.7C634.4 697.6 634.7 698.5 635.0 699.5C635.4 700.4 635.7 701.4 635.9 702.4C636.2 703.3 636.5 704.3 636.7 705.3C637.0 706.2 637.2 707.2 637.4 708.2C637.7 709.2 637.9 710.1 638.1 711.1C638.3 712.1 638.5 713.1 638.7 714.1C638.9 715.0 639.1 716.0 639.3 717.0C639.5 718.0 639.7 719.0 639.9 720.0C640.1 720.9 640.2 721.9 640.4 722.9C640.6 723.9 640.8 724.9 640.9 725.9C641.1 726.9 641.3 727.8 641.5 728.8C641.6 729.8 641.8 730.8 642.0 731.8C642.2 732.8 642.3 733.8 642.5 734.7C642.7 735.7 642.8 736.7 643.0 737.7C643.2 738.7 643.3 739.7 643.5 740.7C643.7 741.7 643.9 742.6 644.0 743.6C644.2 744.6 644.4 745.6 644.5 746.6C644.7 747.6 644.8 748.6 645.0 749.6C645.2 750.6 645.3 751.5 645.5 752.5C645.6 753.5 645.8 754.5 645.9 755.5C646.1 756.5 646.3 757.5 646.4 758.5C646.6 759.5 646.7 760.5 646.9 761.4C647.0 762.4 647.2 763.4 647.4 764.4C647.5 765.4 647.7 766.4 647.9 767.4C648.0 768.4 648.2 769.3 648.4 770.3C648.6 771.3 648.7 772.3 648.9 773.3C649.1 774.3 649.3 775.3 649.5 776.2C649.8 777.2 650.0 778.2 650.2 779.2C650.4 780.1 650.7 781.1 650.9 782.1C651.2 783.0 651.5 784.0 651.8 785.0C652.1 785.9 652.4 786.9 652.8 787.8C653.1 788.8 653.4 789.7 653.8 790.6C654.2 791.6 654.5 792.5 655.0 793.4C655.5 794.3 655.9 795.5 656.6 795.9C657.3 796.3 658.4 796.2 659.2 795.7C659.9 795.3 660.4 794.1 660.9 793.3C661.4 792.4 661.8 791.5 662.3 790.6C662.7 789.7 663.1 788.8 663.5 787.9C663.9 787.0 664.3 786.0 664.6 785.1C665.0 784.2 665.3 783.2 665.7 782.3C666.0 781.3 666.3 780.4 666.6 779.4C667.0 778.5 667.3 777.5 667.6 776.6C667.9 775.6 668.2 774.7 668.5 773.7C668.8 772.8 669.1 771.8 669.4 770.8C669.7 769.9 669.9 768.9 670.2 767.9C670.5 767.0 670.8 766.0 671.1 765.1C671.4 764.1 671.7 763.2 672.0 762.2C672.3 761.3 672.7 760.3 673.0 759.4C673.4 758.4 673.7 757.5 674.1 756.6C674.5 755.7 674.9 754.7 675.3 753.8C675.7 752.9 676.1 752.0 676.6 751.1C677.1 750.3 677.7 749.4 678.3 748.6C678.9 747.9 679.7 747.1 680.5 746.6C681.3 746.1 682.4 745.5 683.3 745.5C684.2 745.5 685.1 746.1 685.9 746.7C686.7 747.2 687.3 748.1 688.0 748.8C688.8 749.5 689.5 750.2 690.2 750.9C690.9 751.7 691.5 752.5 692.0 753.3C692.6 754.1 693.1 755.0 693.6 755.9C694.1 756.7 694.5 757.6 695.0 758.5C695.5 759.4 695.9 760.3 696.4 761.2C696.8 762.1 697.3 763.0 697.8 763.8C698.3 764.7 698.8 765.6 699.3 766.5C699.8 767.3 700.3 768.2 700.8 769.1C701.3 769.9 701.8 770.8 702.3 771.7C702.8 772.5 703.3 773.4 703.9 774.2C704.4 775.0 705.0 775.9 705.6 776.7C706.2 777.5 706.8 778.3 707.4 779.1C708.1 779.8 708.8 780.6 709.5 781.2C710.3 781.9 711.1 782.5 712.0 782.9C712.9 783.4 713.9 783.7 714.8 783.9C715.8 784.1 716.8 784.1 717.8 784.2C718.8 784.3 719.8 784.3 720.8 784.4C721.8 784.5 722.8 784.6 723.8 784.8C724.8 784.9 725.8 785.0 726.8 785.3C727.7 785.5 728.7 785.7 729.6 786.1C730.5 786.6 731.4 787.2 732.1 787.9C732.8 788.6 733.3 789.4 733.8 790.3C734.4 791.1 734.8 792.0 735.3 792.9C735.7 793.8 736.1 794.7 736.5 795.7C736.9 796.6 737.3 797.5 737.6 798.4C738.0 799.4 738.3 800.3 738.6 801.3C738.9 802.2 739.2 803.2 739.5 804.1C739.8 805.1 740.1 806.1 740.4 807.0C740.8 808.0 741.1 808.9 741.4 809.9C741.7 810.8 742.0 811.8 742.3 812.7C742.6 813.7 742.9 814.7 743.2 815.6C743.5 816.6 743.8 817.5 744.1 818.5C744.4 819.4 744.7 820.4 744.9 821.4C745.2 822.3 745.5 823.3 745.8 824.2C746.1 825.2 746.4 826.1 746.7 827.1C747.0 828.1 747.3 829.0 747.6 830.0C747.8 830.9 748.1 831.9 748.4 832.9C748.7 833.8 749.0 834.8 749.4 835.7C749.7 836.7 750.0 837.6 750.3 838.6C750.6 839.5 750.9 840.5 751.3 841.4C751.6 842.4 751.9 843.3 752.3 844.3C752.6 845.2 752.9 846.1 753.3 847.1C753.6 848.0 753.9 849.0 754.2 849.9C754.6 850.9 754.9 851.8 755.3 852.8C755.6 853.7 756.0 854.6 756.3 855.6C756.7 856.5 757.1 857.4 757.5 858.3C757.9 859.3 758.3 860.2 758.7 861.1C759.1 862.0 759.5 862.9 759.9 863.8C760.3 864.7 760.8 865.6 761.2 866.5C761.7 867.4 762.1 868.3 762.6 869.2C763.0 870.1 763.5 871.0 764.0 871.9C764.4 872.8 764.9 873.7 765.4 874.5C765.9 875.4 766.4 876.3 766.8 877.2C767.3 878.0 767.9 878.9 768.4 879.8C768.9 880.6 769.4 881.5 769.9 882.4C770.4 883.2 770.9 884.1 771.5 884.9C772.0 885.8 772.5 886.6 773.1 887.5C773.6 888.3 774.2 889.1 774.7 890.0C775.3 890.8 775.9 891.6 776.4 892.4C777.0 893.2 777.6 894.0 778.3 894.8C778.9 895.6 779.5 896.4 780.1 897.2C780.8 898.0 781.4 898.7 782.1 899.5C782.7 900.3 783.3 901.0 784.0 901.8C784.7 902.5 785.3 903.3 786.0 904.1C786.6 904.8 787.3 905.6 787.9 906.3C788.6 907.1 789.3 907.8 789.9 908.6C790.6 909.3 791.3 910.1 791.9 910.8C792.6 911.5 793.3 912.3 794.0 913.0C794.7 913.7 795.4 914.5 796.0 915.2C796.7 915.9 797.4 916.6 798.1 917.4C798.8 918.1 799.5 918.8 800.2 919.5C800.9 920.3 801.6 921.0 802.3 921.7C803.0 922.4 803.7 923.1 804.4 923.8C805.1 924.5 805.9 925.2 806.6 925.9C807.3 926.6 808.0 927.3 808.8 928.0C809.5 928.6 810.3 929.3 811.1 929.9C811.8 930.6 812.6 931.2 813.4 931.8C814.2 932.4 815.0 933.0 815.8 933.6C816.6 934.2 817.4 934.8 818.2 935.4C819.0 936.0 819.9 936.6 820.7 937.1C821.5 937.7 822.3 938.2 823.2 938.8C824.0 939.3 824.9 939.9 825.7 940.4C826.6 940.9 827.4 941.5 828.3 942.0C829.1 942.5 830.0 943.0 830.9 943.5C831.7 944.0 832.6 944.5 833.5 945.0C834.4 945.5 835.2 945.9 836.1 946.4C837.0 946.9 837.9 947.4 838.8 947.8C839.7 948.3 840.6 948.7 841.5 949.2C842.4 949.6 843.3 950.1 844.2 950.5C845.1 950.9 846.0 951.3 846.9 951.7C847.8 952.1 848.8 952.5 849.7 952.9C850.6 953.2 851.6 953.6 852.5 954.0C853.4 954.3 854.4 954.6 855.3 955.0C856.3 955.3 857.2 955.6 858.2 955.9C859.1 956.2 860.1 956.5 861.1 956.8C862.0 957.0 863.0 957.3 864.0 957.6C864.9 957.8 865.9 958.1 866.9 958.3C867.9 958.5 868.8 958.7 869.8 958.9C870.8 959.1 871.8 959.3 872.8 959.4C873.8 959.6 874.8 959.7 875.7 959.9C876.7 960.0 877.7 960.2 878.7 960.3C879.7 960.4 880.7 960.5 881.7 960.6C882.7 960.7 883.7 960.8 884.7 960.9C885.7 961.0 886.7 961.1 887.7 961.2C888.7 961.3 889.7 961.3 890.7 961.4C891.7 961.5 892.7 961.5 893.7 961.6C894.7 961.6 895.7 961.7 896.7 961.7C897.7 961.7 898.7 961.8 899.7 961.8C900.7 961.8 901.7 961.8 902.7 961.8C903.7 961.7 904.7 961.6 905.7 961.6C906.7 961.5 907.7 961.4 908.7 961.3C909.7 961.2 910.7 961.1 911.7 961.1C912.7 961.0 913.7 960.9 914.7 960.8C915.7 960.7 916.7 960.6 917.7 960.5C918.7 960.4 919.7 960.3 920.7 960.2C921.7 960.1 922.7 960.1 923.7 960.0C924.7 959.9 925.7 959.8 926.7 959.7C927.7 959.6 928.7 959.6 929.7 959.5C930.7 959.4 931.7 959.3 932.7 959.2C933.6 959.1 934.6 959.0 935.6 958.9C936.6 958.8 937.6 958.6 938.6 958.5C939.6 958.4 940.6 958.2 941.6 958.0C942.6 957.9 943.6 957.7 944.6 957.5C945.5 957.3 946.5 957.2 947.5 957.0C948.5 956.8 949.5 956.6 950.5 956.4C951.4 956.1 952.4 955.9 953.4 955.7C954.4 955.5 955.3 955.3 956.3 955.1C957.3 954.9 958.3 954.7 959.3 954.5C960.2 954.2 961.2 954.0 962.2 953.8C963.2 953.6 964.2 953.4 965.1 953.2C966.1 953.0 967.1 952.8 968.1 952.6C969.1 952.3 970.0 952.1 971.0 951.9C972.0 951.7 973.0 951.5 973.9 951.2C974.9 951.0 975.9 950.8 976.9 950.6C977.9 950.4 978.8 950.2 979.8 949.9C980.8 949.7 981.8 949.5 982.8 949.3C983.7 949.1 984.7 948.9 985.7 948.6C986.7 948.4 987.6 948.2 988.6 948.0C989.6 947.8 990.6 947.6 991.6 947.4C992.5 947.1 993.5 946.9 994.5 946.7C995.5 946.5 996.5 946.3 997.4 946.1C998.4 945.9 999.4 945.6 1000.4 945.4C1001.3 945.2 1002.3 945.0 1003.3 944.8C1004.3 944.6 1005.3 944.3 1006.2 944.1C1007.2 943.9 1008.2 943.7 1009.2 943.5C1010.2 943.3 1011.1 943.1 1012.1 942.8C1013.1 942.6 1014.1 942.4 1015.0 942.2C1016.0 942.0 1017.0 941.8 1018.0 941.5C1019.0 941.3 1019.9 941.1 1020.9 940.9C1021.9 940.7 1022.9 940.5 1023.8 940.3C1024.8 940.0 1025.8 939.8 1026.8 939.6C1027.8 939.4 1028.7 939.2 1029.7 938.9C1030.7 938.7 1031.7 938.5 1032.7 938.3C1033.6 938.1 1034.6 937.9 1035.6 937.7C1036.6 937.4 1037.5 937.2 1038.5 937.0C1039.5 936.8 1040.5 936.6 1041.5 936.4C1042.4 936.2 1043.4 936.0 1044.4 935.8C1045.4 935.5 1046.4 935.3 1047.3 935.1C1048.3 934.9 1049.3 934.7 1050.3 934.5C1051.3 934.3 1052.2 934.1 1053.2 933.9C1054.2 933.7 1055.2 933.5 1056.2 933.3C1057.2 933.1 1058.1 932.9 1059.1 932.7C1060.1 932.5 1061.1 932.3 1062.1 932.1C1063.0 931.9 1064.0 931.7 1065.0 931.5C1066.0 931.3 1067.0 931.1 1067.9 930.9C1068.9 930.7 1069.9 930.5 1070.9 930.3C1071.9 930.1 1072.9 929.9 1073.8 929.7C1074.8 929.5 1075.8 929.3 1076.8 929.1C1077.8 928.9 1078.8 928.7 1079.7 928.5C1080.7 928.4 1081.7 928.2 1082.7 928.0C1083.7 927.8 1084.7 927.6 1085.6 927.4C1086.6 927.2 1087.6 927.1 1088.6 926.9C1089.6 926.7 1090.6 926.5 1091.6 926.3C1092.5 926.1 1093.5 926.0 1094.5 925.8C1095.5 925.6 1096.5 925.4 1097.5 925.3C1098.5 925.1 1099.4 924.9 1100.4 924.7C1101.4 924.5 1102.4 924.4 1103.4 924.2C1104.4 924.0 1105.4 923.9 1106.4 923.7C1107.3 923.5 1108.3 923.3 1109.3 923.2C1110.3 923.0 1111.3 922.8 1112.3 922.7C1113.3 922.5 1114.3 922.3 1115.2 922.2C1116.2 922.0 1117.2 921.9 1118.2 921.7C1119.2 921.5 1120.2 921.4 1121.2 921.2C1122.2 921.1 1123.2 920.9 1124.1 920.7C1125.1 920.6 1126.1 920.4 1127.1 920.3C1128.1 920.1 1129.1 919.9 1130.1 919.8C1131.1 919.6 1132.1 919.5 1133.1 919.3C1134.0 919.2 1135.0 919.0 1136.0 918.9C1137.0 918.7 1138.0 918.5 1139.0 918.4C1140.0 918.2 1141.0 918.1 1142.0 917.9C1143.0 917.8 1143.9 917.6 1144.9 917.5C1145.9 917.3 1146.9 917.2 1147.9 917.0C1148.9 916.9 1149.9 916.7 1150.9 916.6C1151.9 916.4 1152.9 916.3 1153.8 916.1C1154.8 916.0 1155.8 915.8 1156.8 915.7C1157.8 915.5 1158.8 915.4 1159.8 915.2C1160.8 915.1 1161.8 914.9 1162.8 914.8C1163.8 914.6 1164.7 914.5 1165.7 914.3C1166.7 914.2 1167.7 914.1 1168.7 913.9C1169.7 913.8 1170.7 913.6 1171.7 913.5C1172.7 913.3 1173.7 913.2 1174.7 913.1C1175.7 912.9 1176.6 912.8 1177.6 912.6C1178.6 912.5 1179.6 912.4 1180.6 912.2C1181.6 912.1 1182.6 911.9 1183.6 911.8C1184.6 911.7 1185.6 911.5 1186.6 911.4C1187.6 911.3 1188.6 911.1 1189.5 911.0C1190.5 910.8 1191.5 910.7 1192.5 910.6C1193.5 910.4 1194.5 910.3 1195.5 910.2C1196.5 910.0 1197.5 909.9 1198.5 909.8C1199.5 909.6 1200.5 909.5 1201.5 909.4C1202.5 909.2 1203.4 909.1 1204.4 909.0C1205.4 908.8 1206.4 908.7 1207.4 908.6C1208.4 908.4 1209.4 908.3 1210.4 908.2C1211.4 908.0 1212.4 907.9 1213.4 907.8C1214.4 907.6 1215.4 907.5 1216.4 907.4C1217.4 907.3 1218.3 907.1 1219.3 907.0C1220.3 906.9 1221.3 906.7 1222.3 906.6C1223.3 906.5 1224.3 906.3 1225.3 906.2C1226.3 906.1 1227.3 905.9 1228.3 905.8C1229.3 905.7 1230.3 905.5 1231.3 905.4C1232.3 905.3 1233.2 905.1 1234.2 905.0C1235.2 904.9 1236.2 904.8 1237.2 904.6C1238.2 904.5 1239.2 904.4 1240.2 904.2C1241.2 904.1 1242.2 904.0 1243.2 903.8C1244.2 903.7 1245.2 903.6 1246.2 903.5C1247.2 903.3 1248.1 903.2 1249.1 903.1C1250.1 902.9 1251.1 902.8 1252.1 902.7C1253.1 902.6 1254.1 902.4 1255.1 902.3C1256.1 902.2 1257.1 902.1 1258.1 901.9C1259.1 901.8 1260.1 901.7 1261.1 901.6C1262.1 901.4 1263.1 901.3 1264.1 901.2C1265.0 901.1 1266.0 901.0 1267.0 900.8C1268.0 900.7 1269.0 900.6 1270.0 900.5C1271.0 900.4 1272.0 900.2 1273.0 900.1C1274.0 900.0 1275.0 899.9 1276.0 899.8C1277.0 899.7 1278.0 899.5 1279.0 899.4C1280.0 899.3 1281.0 899.2 1282.0 899.1C1283.0 899.0 1284.0 898.8 1284.9 898.7C1285.9 898.6 1286.9 898.5 1287.9 898.4C1288.9 898.3 1289.9 898.2 1290.9 898.0C1291.9 897.9 1292.9 897.8 1293.9 897.7C1294.9 897.6 1295.9 897.5 1296.9 897.4C1297.9 897.2 1298.9 897.1 1299.9 897.0C1300.9 896.9 1301.9 896.8 1302.9 896.7C1303.9 896.6 1304.9 896.4 1305.9 896.3C1306.8 896.2 1307.8 896.1 1308.8 896.0C1309.8 895.9 1310.8 895.8 1311.8 895.7C1312.8 895.5 1313.8 895.4 1314.8 895.3C1315.8 895.2 1316.8 895.1 1317.8 895.0C1318.8 894.9 1319.8 894.8 1320.8 894.7C1321.8 894.5 1322.8 894.4 1323.8 894.3C1324.8 894.2 1325.8 894.1 1326.8 894.0C1327.8 893.9 1328.8 893.8 1329.7 893.7C1330.7 893.6 1331.7 893.5 1332.7 893.4C1333.7 893.3 1334.7 893.1 1335.7 893.0C1336.7 892.9 1337.7 892.8 1338.7 892.7C1339.7 892.6 1340.7 892.5 1341.7 892.4C1342.7 892.3 1343.7 892.2 1344.7 892.1C1345.7 892.0 1346.7 891.9 1347.7 891.8C1348.7 891.7 1349.7 891.6 1350.7 891.6C1351.7 891.5 1352.7 891.4 1353.7 891.3C1354.7 891.2 1355.7 891.1 1356.7 891.0C1357.7 890.9 1358.7 890.8 1359.7 890.7C1360.7 890.6 1361.7 890.5 1362.7 890.4C1363.7 890.3 1364.6 890.3 1365.6 890.2C1366.6 890.1 1367.6 890.0 1368.6 889.9C1369.6 889.8 1370.6 889.7 1371.6 889.6C1372.6 889.5 1373.6 889.4 1374.6 889.3C1375.6 889.2 1376.6 889.1 1377.6 889.0C1378.6 888.9 1379.6 888.8 1380.6 888.7C1381.6 888.6 1382.6 888.5 1383.6 888.4C1384.6 888.3 1385.6 888.2 1386.6 888.1C1387.6 888.0 1388.6 887.9 1389.6 887.8C1390.6 887.7 1391.6 887.6 1392.6 887.5C1393.6 887.4 1394.6 887.3 1395.6 887.2C1396.6 887.1 1397.5 887.0 1398.5 886.9C1399.5 886.8 1400.5 886.7 1401.5 886.6C1402.5 886.5 1403.5 886.3 1404.5 886.2C1405.5 886.1 1406.5 886.0 1407.5 885.9C1408.5 885.8 1410.0 885.7 1410.5 885.6" fill="none" stroke="#ff3d3d" stroke-width="4.9" stroke-linecap="round" stroke-linejoin="round"/></g>
<rect x="188.75" y="35.00" width="1234.95" height="994.80" fill="none" stroke="#000" stroke-width="3.9"/>
<path d="M188.75 1024.79h9.2M188.75 1003.19h9.2M188.75 986.44h9.2M188.75 972.75h9.2M188.75 961.18h9.2M188.75 951.15h9.2M188.75 942.31h9.2M188.75 934.40h18.8M188.75 882.36h9.2M188.75 851.92h9.2M188.75 830.32h9.2M188.75 813.57h9.2M188.75 799.88h9.2M188.75 788.31h9.2M188.75 778.28h9.2M188.75 769.44h9.2M188.75 761.53h18.8M188.75 709.49h9.2M188.75 679.05h9.2M188.75 657.45h9.2M188.75 640.70h9.2M188.75 627.01h9.2M188.75 615.44h9.2M188.75 605.41h9.2M188.75 596.57h9.2M188.75 588.66h18.8M188.75 536.62h9.2M188.75 506.18h9.2M188.75 484.58h9.2M188.75 467.83h9.2M188.75 454.14h9.2M188.75 442.57h9.2M188.75 432.54h9.2M188.75 423.70h9.2M188.75 415.79h18.8M188.75 363.75h9.2M188.75 333.31h9.2M188.75 311.71h9.2M188.75 294.96h9.2M188.75 281.27h9.2M188.75 269.70h9.2M188.75 259.67h9.2M188.75 250.83h9.2M188.75 242.92h18.8M188.75 190.88h9.2M188.75 160.44h9.2M188.75 138.84h9.2M188.75 122.09h9.2M188.75 108.40h9.2M188.75 96.83h9.2M188.75 86.80h9.2M188.75 77.96h9.2M188.75 70.05h18.8M253.75 1029.80v-20.0M297.08 1029.80v-10.0M340.41 1029.80v-10.0M383.74 1029.80v-20.0M427.07 1029.80v-10.0M470.41 1029.80v-10.0M513.74 1029.80v-20.0M557.07 1029.80v-10.0M600.40 1029.80v-10.0M643.73 1029.80v-20.0M687.06 1029.80v-10.0M730.39 1029.80v-10.0M773.73 1029.80v-20.0M817.06 1029.80v-10.0M860.39 1029.80v-10.0M903.72 1029.80v-20.0M947.05 1029.80v-10.0M990.38 1029.80v-10.0M1033.72 1029.80v-20.0M1077.05 1029.80v-10.0M1120.38 1029.80v-10.0M1163.71 1029.80v-20.0M1207.04 1029.80v-10.0M1250.37 1029.80v-10.0M1293.71 1029.80v-20.0M1337.04 1029.80v-10.0M1380.37 1029.80v-10.0" fill="none" stroke="#000" stroke-width="3.8"/>
<text x="167" y="952.1" text-anchor="end" font-size="47.5">10<tspan dy="-19.5" font-size="32">-3</tspan></text>
<text x="167" y="779.2" text-anchor="end" font-size="47.5">10<tspan dy="-19.5" font-size="32">-2</tspan></text>
<text x="167" y="606.4" text-anchor="end" font-size="47.5">10<tspan dy="-19.5" font-size="32">-1</tspan></text>
<text x="167" y="433.5" text-anchor="end" font-size="47.5">10<tspan dy="-19.5" font-size="32">0</tspan></text>
<text x="167" y="260.6" text-anchor="end" font-size="47.5">10<tspan dy="-19.5" font-size="32">1</tspan></text>
<text x="167" y="87.8" text-anchor="end" font-size="47.5">10<tspan dy="-19.5" font-size="32">2</tspan></text>
<text x="253.2" y="1088.2" text-anchor="middle" font-size="47.5">2</text>
<text x="383.2" y="1088.2" text-anchor="middle" font-size="47.5">4</text>
<text x="513.2" y="1088.2" text-anchor="middle" font-size="47.5">6</text>
<text x="643.2" y="1088.2" text-anchor="middle" font-size="47.5">8</text>
<text x="773.2" y="1088.2" text-anchor="middle" font-size="47.5">10</text>
<text x="903.2" y="1088.2" text-anchor="middle" font-size="47.5">12</text>
<text x="1033.2" y="1088.2" text-anchor="middle" font-size="47.5">14</text>
<text x="1163.2" y="1088.2" text-anchor="middle" font-size="47.5">16</text>
<text x="1293.2" y="1088.2" text-anchor="middle" font-size="47.5">18</text>
<text x="1423.2" y="1088.2" text-anchor="middle" font-size="47.5">20</text>
<text x="806" y="1179" text-anchor="middle" font-size="61.2">Rb (cm)</text>
<text transform="translate(69.8 531.6) rotate(-90)" text-anchor="middle" font-size="61.2">Bending Loss(dB/km)</text>
<path d="M503.7 76.4H618" stroke="#4d4d4d" stroke-width="5" stroke-linecap="round"/>
<text x="631.5" y="93.5" font-size="51.6">y-polarization</text>
<path d="M968.2 76.4H1081.4" stroke="#ff3d3d" stroke-width="5" stroke-linecap="round"/>
<text x="1095.3" y="93.5" font-size="51.7">x-polarization</text>
</svg></body></html>
